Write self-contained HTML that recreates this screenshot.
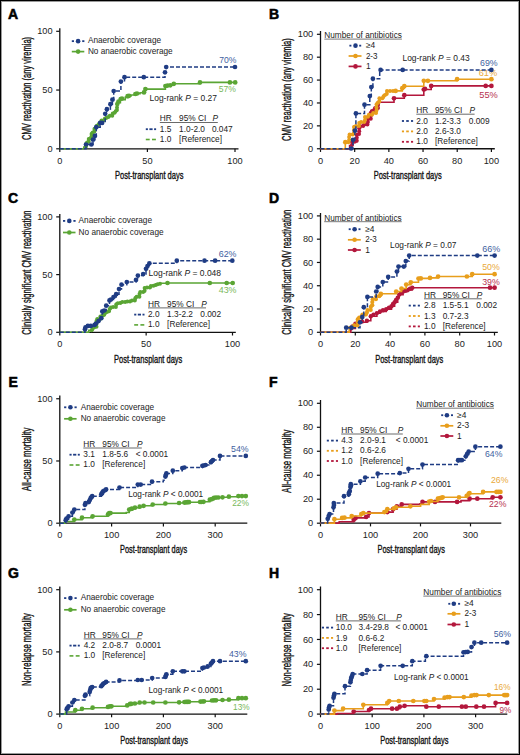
<!DOCTYPE html>
<html><head><meta charset="utf-8"><style>
html,body{margin:0;padding:0;background:#fff;overflow:hidden;width:520px;height:755px;}
svg{display:block;}
text{font-family:"Liberation Sans", sans-serif;}
</style></head><body>
<svg width="520" height="755" viewBox="0 0 520 755">
<rect x="0" y="0" width="520" height="755" fill="#fff"/>
<path d="M59.8 28.2 V148.8 H238.5" fill="none" stroke="#111" stroke-width="1.3"/>
<line x1="56.199999999999996" y1="148.80" x2="59.8" y2="148.80" stroke="#111" stroke-width="1.2"/>
<text x="52.5" y="151.85" font-size="9.2" fill="#222" text-anchor="end" font-weight="normal" >0</text>
<line x1="56.199999999999996" y1="90.05" x2="59.8" y2="90.05" stroke="#111" stroke-width="1.2"/>
<text x="52.5" y="93.1" font-size="9.2" fill="#222" text-anchor="end" font-weight="normal" >50</text>
<line x1="56.199999999999996" y1="31.30" x2="59.8" y2="31.30" stroke="#111" stroke-width="1.2"/>
<text x="52.5" y="34.35" font-size="9.2" fill="#222" text-anchor="end" font-weight="normal" >100</text>
<line x1="59.80" y1="148.8" x2="59.80" y2="152.0" stroke="#111" stroke-width="1.2"/>
<text x="59.8" y="163.6" font-size="9.2" fill="#222" text-anchor="middle" font-weight="normal" >0</text>
<line x1="147.40" y1="148.8" x2="147.40" y2="152.0" stroke="#111" stroke-width="1.2"/>
<text x="147.4" y="163.6" font-size="9.2" fill="#222" text-anchor="middle" font-weight="normal" >50</text>
<line x1="235.00" y1="148.8" x2="235.00" y2="152.0" stroke="#111" stroke-width="1.2"/>
<text x="235.0" y="163.6" font-size="9.2" fill="#222" text-anchor="middle" font-weight="normal" >100</text>
<path d="M320.5 30.9 V148.75 H494.8" fill="none" stroke="#111" stroke-width="1.3"/>
<line x1="316.9" y1="148.75" x2="320.5" y2="148.75" stroke="#111" stroke-width="1.2"/>
<text x="313.2" y="151.8" font-size="9.2" fill="#222" text-anchor="end" font-weight="normal" >0</text>
<line x1="316.9" y1="125.86" x2="320.5" y2="125.86" stroke="#111" stroke-width="1.2"/>
<text x="313.2" y="128.91" font-size="9.2" fill="#222" text-anchor="end" font-weight="normal" >20</text>
<line x1="316.9" y1="102.97" x2="320.5" y2="102.97" stroke="#111" stroke-width="1.2"/>
<text x="313.2" y="106.02" font-size="9.2" fill="#222" text-anchor="end" font-weight="normal" >40</text>
<line x1="316.9" y1="80.08" x2="320.5" y2="80.08" stroke="#111" stroke-width="1.2"/>
<text x="313.2" y="83.13" font-size="9.2" fill="#222" text-anchor="end" font-weight="normal" >60</text>
<line x1="316.9" y1="57.19" x2="320.5" y2="57.19" stroke="#111" stroke-width="1.2"/>
<text x="313.2" y="60.24" font-size="9.2" fill="#222" text-anchor="end" font-weight="normal" >80</text>
<line x1="316.9" y1="34.30" x2="320.5" y2="34.30" stroke="#111" stroke-width="1.2"/>
<text x="313.2" y="37.35" font-size="9.2" fill="#222" text-anchor="end" font-weight="normal" >100</text>
<line x1="320.50" y1="148.75" x2="320.50" y2="151.95" stroke="#111" stroke-width="1.2"/>
<text x="320.5" y="163.55" font-size="9.2" fill="#222" text-anchor="middle" font-weight="normal" >0</text>
<line x1="354.68" y1="148.75" x2="354.68" y2="151.95" stroke="#111" stroke-width="1.2"/>
<text x="354.68" y="163.55" font-size="9.2" fill="#222" text-anchor="middle" font-weight="normal" >20</text>
<line x1="388.86" y1="148.75" x2="388.86" y2="151.95" stroke="#111" stroke-width="1.2"/>
<text x="388.86" y="163.55" font-size="9.2" fill="#222" text-anchor="middle" font-weight="normal" >40</text>
<line x1="423.04" y1="148.75" x2="423.04" y2="151.95" stroke="#111" stroke-width="1.2"/>
<text x="423.04" y="163.55" font-size="9.2" fill="#222" text-anchor="middle" font-weight="normal" >60</text>
<line x1="457.22" y1="148.75" x2="457.22" y2="151.95" stroke="#111" stroke-width="1.2"/>
<text x="457.22" y="163.55" font-size="9.2" fill="#222" text-anchor="middle" font-weight="normal" >80</text>
<line x1="491.40" y1="148.75" x2="491.40" y2="151.95" stroke="#111" stroke-width="1.2"/>
<text x="491.4" y="163.55" font-size="9.2" fill="#222" text-anchor="middle" font-weight="normal" >100</text>
<path d="M59.8 214.0 V332.3 H235.8" fill="none" stroke="#111" stroke-width="1.3"/>
<line x1="56.199999999999996" y1="332.30" x2="59.8" y2="332.30" stroke="#111" stroke-width="1.2"/>
<text x="52.5" y="335.35" font-size="9.2" fill="#222" text-anchor="end" font-weight="normal" >0</text>
<line x1="56.199999999999996" y1="274.60" x2="59.8" y2="274.60" stroke="#111" stroke-width="1.2"/>
<text x="52.5" y="277.65" font-size="9.2" fill="#222" text-anchor="end" font-weight="normal" >50</text>
<line x1="56.199999999999996" y1="216.90" x2="59.8" y2="216.90" stroke="#111" stroke-width="1.2"/>
<text x="52.5" y="219.95" font-size="9.2" fill="#222" text-anchor="end" font-weight="normal" >100</text>
<line x1="59.80" y1="332.3" x2="59.80" y2="335.5" stroke="#111" stroke-width="1.2"/>
<text x="59.8" y="347.1" font-size="9.2" fill="#222" text-anchor="middle" font-weight="normal" >0</text>
<line x1="146.15" y1="332.3" x2="146.15" y2="335.5" stroke="#111" stroke-width="1.2"/>
<text x="146.15" y="347.1" font-size="9.2" fill="#222" text-anchor="middle" font-weight="normal" >50</text>
<line x1="232.50" y1="332.3" x2="232.50" y2="335.5" stroke="#111" stroke-width="1.2"/>
<text x="232.5" y="347.1" font-size="9.2" fill="#222" text-anchor="middle" font-weight="normal" >100</text>
<path d="M320.5 213.0 V332.3 H497.8" fill="none" stroke="#111" stroke-width="1.3"/>
<line x1="316.9" y1="332.30" x2="320.5" y2="332.30" stroke="#111" stroke-width="1.2"/>
<text x="313.2" y="335.35" font-size="9.2" fill="#222" text-anchor="end" font-weight="normal" >0</text>
<line x1="316.9" y1="309.02" x2="320.5" y2="309.02" stroke="#111" stroke-width="1.2"/>
<text x="313.2" y="312.07" font-size="9.2" fill="#222" text-anchor="end" font-weight="normal" >20</text>
<line x1="316.9" y1="285.74" x2="320.5" y2="285.74" stroke="#111" stroke-width="1.2"/>
<text x="313.2" y="288.79" font-size="9.2" fill="#222" text-anchor="end" font-weight="normal" >40</text>
<line x1="316.9" y1="262.46" x2="320.5" y2="262.46" stroke="#111" stroke-width="1.2"/>
<text x="313.2" y="265.51" font-size="9.2" fill="#222" text-anchor="end" font-weight="normal" >60</text>
<line x1="316.9" y1="239.18" x2="320.5" y2="239.18" stroke="#111" stroke-width="1.2"/>
<text x="313.2" y="242.23" font-size="9.2" fill="#222" text-anchor="end" font-weight="normal" >80</text>
<line x1="316.9" y1="215.90" x2="320.5" y2="215.90" stroke="#111" stroke-width="1.2"/>
<text x="313.2" y="218.95" font-size="9.2" fill="#222" text-anchor="end" font-weight="normal" >100</text>
<line x1="320.50" y1="332.3" x2="320.50" y2="335.5" stroke="#111" stroke-width="1.2"/>
<text x="320.5" y="347.1" font-size="9.2" fill="#222" text-anchor="middle" font-weight="normal" >0</text>
<line x1="355.30" y1="332.3" x2="355.30" y2="335.5" stroke="#111" stroke-width="1.2"/>
<text x="355.3" y="347.1" font-size="9.2" fill="#222" text-anchor="middle" font-weight="normal" >20</text>
<line x1="390.10" y1="332.3" x2="390.10" y2="335.5" stroke="#111" stroke-width="1.2"/>
<text x="390.1" y="347.1" font-size="9.2" fill="#222" text-anchor="middle" font-weight="normal" >40</text>
<line x1="424.90" y1="332.3" x2="424.90" y2="335.5" stroke="#111" stroke-width="1.2"/>
<text x="424.9" y="347.1" font-size="9.2" fill="#222" text-anchor="middle" font-weight="normal" >60</text>
<line x1="459.70" y1="332.3" x2="459.70" y2="335.5" stroke="#111" stroke-width="1.2"/>
<text x="459.7" y="347.1" font-size="9.2" fill="#222" text-anchor="middle" font-weight="normal" >80</text>
<line x1="494.50" y1="332.3" x2="494.50" y2="335.5" stroke="#111" stroke-width="1.2"/>
<text x="494.5" y="347.1" font-size="9.2" fill="#222" text-anchor="middle" font-weight="normal" >100</text>
<path d="M59.8 395.6 V523.2 H247.3" fill="none" stroke="#111" stroke-width="1.3"/>
<line x1="56.199999999999996" y1="523.20" x2="59.8" y2="523.20" stroke="#111" stroke-width="1.2"/>
<text x="52.5" y="526.25" font-size="9.2" fill="#222" text-anchor="end" font-weight="normal" >0</text>
<line x1="56.199999999999996" y1="460.98" x2="59.8" y2="460.98" stroke="#111" stroke-width="1.2"/>
<text x="52.5" y="464.03" font-size="9.2" fill="#222" text-anchor="end" font-weight="normal" >50</text>
<line x1="56.199999999999996" y1="398.75" x2="59.8" y2="398.75" stroke="#111" stroke-width="1.2"/>
<text x="52.5" y="401.8" font-size="9.2" fill="#222" text-anchor="end" font-weight="normal" >100</text>
<line x1="59.80" y1="523.2" x2="59.80" y2="526.4000000000001" stroke="#111" stroke-width="1.2"/>
<text x="59.8" y="538.0" font-size="9.2" fill="#222" text-anchor="middle" font-weight="normal" >0</text>
<line x1="111.60" y1="523.2" x2="111.60" y2="526.4000000000001" stroke="#111" stroke-width="1.2"/>
<text x="111.6" y="538.0" font-size="9.2" fill="#222" text-anchor="middle" font-weight="normal" >100</text>
<line x1="163.40" y1="523.2" x2="163.40" y2="526.4000000000001" stroke="#111" stroke-width="1.2"/>
<text x="163.4" y="538.0" font-size="9.2" fill="#222" text-anchor="middle" font-weight="normal" >200</text>
<line x1="215.20" y1="523.2" x2="215.20" y2="526.4000000000001" stroke="#111" stroke-width="1.2"/>
<text x="215.2" y="538.0" font-size="9.2" fill="#222" text-anchor="middle" font-weight="normal" >300</text>
<path d="M320.5 400.1 V523.2 H501.3" fill="none" stroke="#111" stroke-width="1.3"/>
<line x1="316.9" y1="523.20" x2="320.5" y2="523.20" stroke="#111" stroke-width="1.2"/>
<text x="313.2" y="526.25" font-size="9.2" fill="#222" text-anchor="end" font-weight="normal" >0</text>
<line x1="316.9" y1="499.22" x2="320.5" y2="499.22" stroke="#111" stroke-width="1.2"/>
<text x="313.2" y="502.27" font-size="9.2" fill="#222" text-anchor="end" font-weight="normal" >20</text>
<line x1="316.9" y1="475.24" x2="320.5" y2="475.24" stroke="#111" stroke-width="1.2"/>
<text x="313.2" y="478.29" font-size="9.2" fill="#222" text-anchor="end" font-weight="normal" >40</text>
<line x1="316.9" y1="451.26" x2="320.5" y2="451.26" stroke="#111" stroke-width="1.2"/>
<text x="313.2" y="454.31" font-size="9.2" fill="#222" text-anchor="end" font-weight="normal" >60</text>
<line x1="316.9" y1="427.28" x2="320.5" y2="427.28" stroke="#111" stroke-width="1.2"/>
<text x="313.2" y="430.33" font-size="9.2" fill="#222" text-anchor="end" font-weight="normal" >80</text>
<line x1="316.9" y1="403.30" x2="320.5" y2="403.30" stroke="#111" stroke-width="1.2"/>
<text x="313.2" y="406.35" font-size="9.2" fill="#222" text-anchor="end" font-weight="normal" >100</text>
<line x1="320.50" y1="523.2" x2="320.50" y2="526.4000000000001" stroke="#111" stroke-width="1.2"/>
<text x="320.5" y="538.0" font-size="9.2" fill="#222" text-anchor="middle" font-weight="normal" >0</text>
<line x1="370.50" y1="523.2" x2="370.50" y2="526.4000000000001" stroke="#111" stroke-width="1.2"/>
<text x="370.5" y="538.0" font-size="9.2" fill="#222" text-anchor="middle" font-weight="normal" >100</text>
<line x1="420.50" y1="523.2" x2="420.50" y2="526.4000000000001" stroke="#111" stroke-width="1.2"/>
<text x="420.5" y="538.0" font-size="9.2" fill="#222" text-anchor="middle" font-weight="normal" >200</text>
<line x1="470.50" y1="523.2" x2="470.50" y2="526.4000000000001" stroke="#111" stroke-width="1.2"/>
<text x="470.5" y="538.0" font-size="9.2" fill="#222" text-anchor="middle" font-weight="normal" >300</text>
<path d="M59.8 586.5 V714.1 H247.3" fill="none" stroke="#111" stroke-width="1.3"/>
<line x1="56.199999999999996" y1="714.10" x2="59.8" y2="714.10" stroke="#111" stroke-width="1.2"/>
<text x="52.5" y="717.15" font-size="9.2" fill="#222" text-anchor="end" font-weight="normal" >0</text>
<line x1="56.199999999999996" y1="651.90" x2="59.8" y2="651.90" stroke="#111" stroke-width="1.2"/>
<text x="52.5" y="654.95" font-size="9.2" fill="#222" text-anchor="end" font-weight="normal" >50</text>
<line x1="56.199999999999996" y1="589.70" x2="59.8" y2="589.70" stroke="#111" stroke-width="1.2"/>
<text x="52.5" y="592.75" font-size="9.2" fill="#222" text-anchor="end" font-weight="normal" >100</text>
<line x1="59.80" y1="714.1" x2="59.80" y2="717.3000000000001" stroke="#111" stroke-width="1.2"/>
<text x="59.8" y="728.9" font-size="9.2" fill="#222" text-anchor="middle" font-weight="normal" >0</text>
<line x1="111.60" y1="714.1" x2="111.60" y2="717.3000000000001" stroke="#111" stroke-width="1.2"/>
<text x="111.6" y="728.9" font-size="9.2" fill="#222" text-anchor="middle" font-weight="normal" >100</text>
<line x1="163.40" y1="714.1" x2="163.40" y2="717.3000000000001" stroke="#111" stroke-width="1.2"/>
<text x="163.4" y="728.9" font-size="9.2" fill="#222" text-anchor="middle" font-weight="normal" >200</text>
<line x1="215.20" y1="714.1" x2="215.20" y2="717.3000000000001" stroke="#111" stroke-width="1.2"/>
<text x="215.2" y="728.9" font-size="9.2" fill="#222" text-anchor="middle" font-weight="normal" >300</text>
<path d="M320.5 586.5 V714.1 H507.3" fill="none" stroke="#111" stroke-width="1.3"/>
<line x1="316.9" y1="714.10" x2="320.5" y2="714.10" stroke="#111" stroke-width="1.2"/>
<text x="313.2" y="717.15" font-size="9.2" fill="#222" text-anchor="end" font-weight="normal" >0</text>
<line x1="316.9" y1="689.22" x2="320.5" y2="689.22" stroke="#111" stroke-width="1.2"/>
<text x="313.2" y="692.27" font-size="9.2" fill="#222" text-anchor="end" font-weight="normal" >20</text>
<line x1="316.9" y1="664.34" x2="320.5" y2="664.34" stroke="#111" stroke-width="1.2"/>
<text x="313.2" y="667.39" font-size="9.2" fill="#222" text-anchor="end" font-weight="normal" >40</text>
<line x1="316.9" y1="639.46" x2="320.5" y2="639.46" stroke="#111" stroke-width="1.2"/>
<text x="313.2" y="642.51" font-size="9.2" fill="#222" text-anchor="end" font-weight="normal" >60</text>
<line x1="316.9" y1="614.58" x2="320.5" y2="614.58" stroke="#111" stroke-width="1.2"/>
<text x="313.2" y="617.63" font-size="9.2" fill="#222" text-anchor="end" font-weight="normal" >80</text>
<line x1="316.9" y1="589.70" x2="320.5" y2="589.70" stroke="#111" stroke-width="1.2"/>
<text x="313.2" y="592.75" font-size="9.2" fill="#222" text-anchor="end" font-weight="normal" >100</text>
<line x1="320.50" y1="714.1" x2="320.50" y2="717.3000000000001" stroke="#111" stroke-width="1.2"/>
<text x="320.5" y="728.9" font-size="9.2" fill="#222" text-anchor="middle" font-weight="normal" >0</text>
<line x1="372.20" y1="714.1" x2="372.20" y2="717.3000000000001" stroke="#111" stroke-width="1.2"/>
<text x="372.2" y="728.9" font-size="9.2" fill="#222" text-anchor="middle" font-weight="normal" >100</text>
<line x1="423.90" y1="714.1" x2="423.90" y2="717.3000000000001" stroke="#111" stroke-width="1.2"/>
<text x="423.9" y="728.9" font-size="9.2" fill="#222" text-anchor="middle" font-weight="normal" >200</text>
<line x1="475.60" y1="714.1" x2="475.60" y2="717.3000000000001" stroke="#111" stroke-width="1.2"/>
<text x="475.6" y="728.9" font-size="9.2" fill="#222" text-anchor="middle" font-weight="normal" >300</text>
<text x="8.1" y="19.2" font-size="14" font-weight="bold" fill="#000" stroke="#000" stroke-width="0.55">A</text>
<text x="269.1" y="19.3" font-size="14" font-weight="bold" fill="#000" stroke="#000" stroke-width="0.55">B</text>
<text x="8.1" y="203.4" font-size="14" font-weight="bold" fill="#000" stroke="#000" stroke-width="0.55">C</text>
<text x="269.1" y="203.4" font-size="14" font-weight="bold" fill="#000" stroke="#000" stroke-width="0.55">D</text>
<text x="8.4" y="386.9" font-size="14" font-weight="bold" fill="#000" stroke="#000" stroke-width="0.55">E</text>
<text x="269.1" y="386.9" font-size="14" font-weight="bold" fill="#000" stroke="#000" stroke-width="0.55">F</text>
<text x="8.1" y="577.6" font-size="14" font-weight="bold" fill="#000" stroke="#000" stroke-width="0.55">G</text>
<text x="269.1" y="577.6" font-size="14" font-weight="bold" fill="#000" stroke="#000" stroke-width="0.55">H</text>
<text x="115.0" y="178.7" font-size="11" fill="#111" text-anchor="start" font-weight="normal" textLength="68.5" lengthAdjust="spacingAndGlyphs" stroke="#111" stroke-width="0.35">Post-transplant days</text>
<text x="373.7" y="178.7" font-size="11" fill="#111" text-anchor="start" font-weight="normal" textLength="68.0" lengthAdjust="spacingAndGlyphs" stroke="#111" stroke-width="0.35">Post-transplant days</text>
<text x="114.0" y="362.7" font-size="11" fill="#111" text-anchor="start" font-weight="normal" textLength="68.3" lengthAdjust="spacingAndGlyphs" stroke="#111" stroke-width="0.35">Post-transplant days</text>
<text x="375.2" y="362.7" font-size="11" fill="#111" text-anchor="start" font-weight="normal" textLength="68.1" lengthAdjust="spacingAndGlyphs" stroke="#111" stroke-width="0.35">Post-transplant days</text>
<text x="120.0" y="553.1" font-size="11" fill="#111" text-anchor="start" font-weight="normal" textLength="67.1" lengthAdjust="spacingAndGlyphs" stroke="#111" stroke-width="0.35">Post-transplant days</text>
<text x="377.5" y="552.9" font-size="11" fill="#111" text-anchor="start" font-weight="normal" textLength="67.5" lengthAdjust="spacingAndGlyphs" stroke="#111" stroke-width="0.35">Post-transplant days</text>
<text x="120.2" y="744.2" font-size="11" fill="#111" text-anchor="start" font-weight="normal" textLength="67.7" lengthAdjust="spacingAndGlyphs" stroke="#111" stroke-width="0.35">Post-transplant days</text>
<text x="380.2" y="744.2" font-size="11" fill="#111" text-anchor="start" font-weight="normal" textLength="68.3" lengthAdjust="spacingAndGlyphs" stroke="#111" stroke-width="0.35">Post-transplant days</text>
<text transform="translate(30.6,88.4) rotate(-90)" x="0" y="0" font-size="12" fill="#111" text-anchor="middle" textLength="103.0" lengthAdjust="spacingAndGlyphs" stroke="#111" stroke-width="0.35">CMV reactivation (any viremia)</text>
<text transform="translate(291.0,89.6) rotate(-90)" x="0" y="0" font-size="12" fill="#111" text-anchor="middle" textLength="102.8" lengthAdjust="spacingAndGlyphs" stroke="#111" stroke-width="0.35">CMV reactivation (any viremia)</text>
<text transform="translate(30.6,272.6) rotate(-90)" x="0" y="0" font-size="12" fill="#111" text-anchor="middle" textLength="124.3" lengthAdjust="spacingAndGlyphs" stroke="#111" stroke-width="0.35">Clinically significant CMV reactivation</text>
<text transform="translate(291.0,272.3) rotate(-90)" x="0" y="0" font-size="12" fill="#111" text-anchor="middle" textLength="124.8" lengthAdjust="spacingAndGlyphs" stroke="#111" stroke-width="0.35">Clinically significant CMV reactivation</text>
<text transform="translate(30.5,459.3) rotate(-90)" x="0" y="0" font-size="12" fill="#111" text-anchor="middle" textLength="63.2" lengthAdjust="spacingAndGlyphs" stroke="#111" stroke-width="0.35">All-cause mortality</text>
<text transform="translate(291.1,461.2) rotate(-90)" x="0" y="0" font-size="12" fill="#111" text-anchor="middle" textLength="62.9" lengthAdjust="spacingAndGlyphs" stroke="#111" stroke-width="0.35">All-cause mortality</text>
<text transform="translate(30.9,649.6) rotate(-90)" x="0" y="0" font-size="12" fill="#111" text-anchor="middle" textLength="72.9" lengthAdjust="spacingAndGlyphs" stroke="#111" stroke-width="0.35">Non-relapse mortality</text>
<text transform="translate(291.3,649.8) rotate(-90)" x="0" y="0" font-size="12" fill="#111" text-anchor="middle" textLength="73.2" lengthAdjust="spacingAndGlyphs" stroke="#111" stroke-width="0.35">Non-relapse mortality</text>
<rect x="71.8" y="40.25" width="2.20" height="1.8" fill="#1f3c84"/>
<rect x="82.2" y="40.25" width="2.20" height="1.8" fill="#1f3c84"/>
<circle cx="78.10" cy="41.15" r="2.3" fill="#1f3c84"/>
<line x1="71.8" y1="51.6" x2="84.3" y2="51.6" stroke="#5aa534" stroke-width="1.7"/>
<circle cx="78.10" cy="51.60" r="2.3" fill="#5aa534"/>
<text x="87.9" y="43.45" font-size="8.4" fill="#222" text-anchor="start" font-weight="normal" textLength="73.2" lengthAdjust="spacingAndGlyphs" >Anaerobic coverage</text>
<text x="87.9" y="53.9" font-size="8.4" fill="#222" text-anchor="start" font-weight="normal" textLength="84.8" lengthAdjust="spacingAndGlyphs" >No anaerobic coverage</text>
<text x="219.3" y="62.8" font-size="8.3" fill="#3f5f9f" text-anchor="start" font-weight="normal" textLength="17.2" lengthAdjust="spacingAndGlyphs" >70%</text>
<text x="218.7" y="92.4" font-size="8.3" fill="#79b85b" text-anchor="start" font-weight="normal" textLength="17.2" lengthAdjust="spacingAndGlyphs" >57%</text>
<text x="149.5" y="101.3" font-size="8.4" fill="#222" textLength="67.4" lengthAdjust="spacingAndGlyphs">Log-rank <tspan font-style="italic">P</tspan> = 0.27</text>
<text x="159.8" y="121.3" font-size="8.3" fill="#222">HR</text>
<text x="179.1" y="121.3" font-size="8.3" fill="#222">95% CI</text>
<text x="212.5" y="121.3" font-size="8.3" fill="#222" font-style="italic">P</text>
<line x1="159.8" y1="122.5" x2="217.8" y2="122.5" stroke="#444" stroke-width="0.8"/>
<rect x="145.8" y="128.30" width="2.10" height="1.8" fill="#1f3c84"/>
<rect x="149.4" y="128.30" width="3.20" height="1.8" fill="#1f3c84"/>
<rect x="154.10000000000002" y="128.30" width="2.00" height="1.8" fill="#1f3c84"/>
<text x="159.8" y="131.60" font-size="8.3" fill="#222">1.5</text>
<text x="179.1" y="131.60" font-size="8.3" fill="#222">1.0-2.0</text>
<text x="211.9" y="131.60" font-size="8.3" fill="#222">0.047</text>
<rect x="145.8" y="138.70" width="3.90" height="1.6" fill="#5aa534"/>
<rect x="152.0" y="138.70" width="3.90" height="1.6" fill="#5aa534"/>
<text x="159.8" y="141.90" font-size="8.3" fill="#222">1.0</text>
<text x="179.1" y="141.90" font-size="8.3" fill="#222">[Reference]</text>
<path d="M59.80 148.80 H83.50 V148.80 H83.80 V147.00 H86.00 V142.50 H88.70 V138.30 H91.50 V132.50 H94.40 V127.70 H96.50 V125.00 H99.20 V122.40 H101.50 V120.50 H104.00 V118.60 H106.50 V117.00 H108.80 V115.70 H112.70 V112.80 H115.60 V110.90 H117.00 V105.60 H117.50 V102.70 H120.40 V99.80 H125.20 V97.40 H128.00 V96.00 H131.00 V95.00 H135.40 V93.80 H140.00 V92.80 H143.10 V92.30 H145.40 V89.10 H163.80 V89.10 H165.40 V86.00 H170.30 V85.30 H173.80 V83.80 H200.00 V82.40 H235.00 V82.40" fill="none" stroke="#5aa534" stroke-width="1.6"/>
<circle cx="86.00" cy="146.60" r="1.95" fill="#5aa534"/>
<circle cx="86.00" cy="144.00" r="1.95" fill="#5aa534"/>
<circle cx="87.10" cy="142.50" r="1.95" fill="#5aa534"/>
<circle cx="88.70" cy="141.50" r="1.95" fill="#5aa534"/>
<circle cx="88.70" cy="138.90" r="1.95" fill="#5aa534"/>
<circle cx="90.70" cy="138.30" r="1.95" fill="#5aa534"/>
<circle cx="91.50" cy="136.50" r="1.95" fill="#5aa534"/>
<circle cx="91.50" cy="133.90" r="1.95" fill="#5aa534"/>
<circle cx="92.70" cy="132.50" r="1.95" fill="#5aa534"/>
<circle cx="94.40" cy="131.60" r="1.95" fill="#5aa534"/>
<circle cx="94.40" cy="129.00" r="1.95" fill="#5aa534"/>
<circle cx="95.70" cy="127.70" r="1.95" fill="#5aa534"/>
<circle cx="96.50" cy="125.90" r="1.95" fill="#5aa534"/>
<circle cx="98.20" cy="125.00" r="1.95" fill="#5aa534"/>
<circle cx="99.20" cy="123.40" r="1.95" fill="#5aa534"/>
<circle cx="100.80" cy="122.40" r="1.95" fill="#5aa534"/>
<circle cx="101.50" cy="120.50" r="1.95" fill="#5aa534"/>
<circle cx="104.00" cy="120.40" r="1.95" fill="#5aa534"/>
<circle cx="104.80" cy="118.60" r="1.95" fill="#5aa534"/>
<circle cx="106.50" cy="117.70" r="1.95" fill="#5aa534"/>
<circle cx="108.40" cy="117.00" r="1.95" fill="#5aa534"/>
<circle cx="109.70" cy="115.70" r="1.95" fill="#5aa534"/>
<circle cx="112.30" cy="115.70" r="1.95" fill="#5aa534"/>
<circle cx="112.70" cy="113.50" r="1.95" fill="#5aa534"/>
<circle cx="114.60" cy="112.80" r="1.95" fill="#5aa534"/>
<circle cx="115.60" cy="111.20" r="1.95" fill="#5aa534"/>
<circle cx="117.00" cy="110.00" r="1.95" fill="#5aa534"/>
<circle cx="117.00" cy="107.40" r="1.95" fill="#5aa534"/>
<circle cx="117.30" cy="104.00" r="2.35" fill="#5aa534"/>
<circle cx="118.50" cy="101.50" r="2.35" fill="#5aa534"/>
<circle cx="120.70" cy="99.00" r="2.35" fill="#5aa534"/>
<circle cx="122.00" cy="98.50" r="2.35" fill="#5aa534"/>
<circle cx="127.60" cy="96.20" r="2.35" fill="#5aa534"/>
<circle cx="129.00" cy="95.80" r="2.35" fill="#5aa534"/>
<circle cx="135.40" cy="94.00" r="2.35" fill="#5aa534"/>
<circle cx="137.00" cy="93.50" r="2.35" fill="#5aa534"/>
<circle cx="144.00" cy="92.40" r="2.35" fill="#5aa534"/>
<circle cx="145.40" cy="89.10" r="2.35" fill="#5aa534"/>
<circle cx="165.40" cy="86.00" r="2.35" fill="#5aa534"/>
<circle cx="167.50" cy="85.60" r="2.35" fill="#5aa534"/>
<circle cx="170.30" cy="85.30" r="2.35" fill="#5aa534"/>
<circle cx="173.80" cy="83.80" r="2.35" fill="#5aa534"/>
<circle cx="200.00" cy="82.40" r="2.35" fill="#5aa534"/>
<circle cx="229.90" cy="82.40" r="2.35" fill="#5aa534"/>
<circle cx="235.20" cy="82.40" r="2.35" fill="#5aa534"/>
<path d="M59.80 148.80 H86.00 V144.50 H91.30 V144.50 H93.00 V139.70 H94.90 V135.90 H96.30 V127.20 H100.20 V122.90 H102.10 V122.90 H105.20 V113.75 H106.90 V109.20 H110.40 V104.20 H112.40 V99.70 H113.70 V91.00 H120.90 V81.50 H124.50 V77.20 H143.80 V77.20 H165.00 V72.30 H166.20 V67.00 H235.00 V67.00" fill="none" stroke="#1f3c84" stroke-width="1.5" stroke-dasharray="4 2"/>
<circle cx="86.00" cy="144.50" r="2.35" fill="#1f3c84"/>
<circle cx="91.30" cy="144.50" r="2.35" fill="#1f3c84"/>
<circle cx="93.00" cy="139.70" r="2.35" fill="#1f3c84"/>
<circle cx="94.90" cy="135.90" r="2.35" fill="#1f3c84"/>
<circle cx="96.30" cy="127.20" r="2.35" fill="#1f3c84"/>
<circle cx="100.20" cy="122.90" r="2.35" fill="#1f3c84"/>
<circle cx="102.10" cy="122.90" r="2.35" fill="#1f3c84"/>
<circle cx="105.20" cy="113.75" r="2.35" fill="#1f3c84"/>
<circle cx="106.90" cy="109.20" r="2.35" fill="#1f3c84"/>
<circle cx="110.40" cy="104.20" r="2.35" fill="#1f3c84"/>
<circle cx="112.40" cy="99.70" r="2.35" fill="#1f3c84"/>
<circle cx="113.70" cy="91.00" r="2.35" fill="#1f3c84"/>
<circle cx="120.90" cy="81.50" r="2.35" fill="#1f3c84"/>
<circle cx="124.50" cy="77.20" r="2.35" fill="#1f3c84"/>
<circle cx="143.80" cy="77.20" r="2.35" fill="#1f3c84"/>
<circle cx="165.00" cy="72.30" r="2.35" fill="#1f3c84"/>
<circle cx="166.20" cy="67.00" r="2.35" fill="#1f3c84"/>
<circle cx="235.00" cy="67.00" r="2.35" fill="#1f3c84"/>
<rect x="349.40000000000003" y="44.75" width="2.00" height="1.8" fill="#1f3c84"/>
<rect x="359.20000000000005" y="44.75" width="2.00" height="1.8" fill="#1f3c84"/>
<circle cx="355.50" cy="45.65" r="2.3" fill="#1f3c84"/>
<line x1="348.6" y1="56.0" x2="361.5" y2="56.0" stroke="#e89e1c" stroke-width="1.7"/>
<circle cx="355.50" cy="56.00" r="2.3" fill="#e89e1c"/>
<line x1="348.6" y1="66.4" x2="361.5" y2="66.4" stroke="#b3173c" stroke-width="1.7"/>
<circle cx="355.50" cy="66.40" r="2.3" fill="#b3173c"/>
<text x="365.9" y="48.15" font-size="8.4" fill="#222">≥4</text>
<text x="365.9" y="58.50" font-size="8.4" fill="#222" textLength="11.6" lengthAdjust="spacingAndGlyphs">2-3</text>
<text x="365.9" y="68.90" font-size="8.4" fill="#222">1</text>
<text x="324.3" y="38.0" font-size="8.3" fill="#222" textLength="77.6" lengthAdjust="spacingAndGlyphs">Number of antibiotics</text>
<line x1="324.3" y1="39.1" x2="401.9" y2="39.1" stroke="#555" stroke-width="0.8"/>
<text x="402.5" y="60.6" font-size="8.4" fill="#222" textLength="67.2" lengthAdjust="spacingAndGlyphs">Log-rank <tspan font-style="italic">P</tspan> = 0.43</text>
<text x="480.0" y="65.9" font-size="8.3" fill="#3f5f9f" text-anchor="start" font-weight="normal" textLength="17.6" lengthAdjust="spacingAndGlyphs" >69%</text>
<text x="478.7" y="75.8" font-size="8.3" fill="#e9a93a" text-anchor="start" font-weight="normal" textLength="18.5" lengthAdjust="spacingAndGlyphs" >61%</text>
<text x="479.3" y="98.2" font-size="8.3" fill="#b7324f" text-anchor="start" font-weight="normal" textLength="18.5" lengthAdjust="spacingAndGlyphs" >55%</text>
<text x="416.3" y="112.9" font-size="8.3" fill="#222">HR</text>
<text x="435.0" y="112.9" font-size="8.3" fill="#222">95% CI</text>
<text x="469.6" y="112.9" font-size="8.3" fill="#222" font-style="italic">P</text>
<line x1="416.3" y1="114.2" x2="474.6" y2="114.2" stroke="#444" stroke-width="0.8"/>
<rect x="401.9" y="120.10" width="2.10" height="1.8" fill="#1f3c84"/>
<rect x="406.2" y="120.10" width="2.60" height="1.8" fill="#1f3c84"/>
<rect x="411.0" y="120.10" width="2.10" height="1.8" fill="#1f3c84"/>
<text x="416.3" y="123.60" font-size="8.3" fill="#222">2.0</text>
<text x="435.0" y="123.60" font-size="8.3" fill="#222">1.2-3.3</text>
<text x="468.8" y="123.60" font-size="8.3" fill="#222">0.009</text>
<rect x="401.9" y="130.50" width="2.10" height="1.8" fill="#e89e1c"/>
<rect x="406.2" y="130.50" width="2.60" height="1.8" fill="#e89e1c"/>
<rect x="411.0" y="130.50" width="2.10" height="1.8" fill="#e89e1c"/>
<text x="416.3" y="134.00" font-size="8.3" fill="#222">2.0</text>
<text x="435.0" y="134.00" font-size="8.3" fill="#222">2.6-3.0</text>
<rect x="401.9" y="140.90" width="2.10" height="1.8" fill="#b3173c"/>
<rect x="406.2" y="140.90" width="2.60" height="1.8" fill="#b3173c"/>
<rect x="411.0" y="140.90" width="2.10" height="1.8" fill="#b3173c"/>
<text x="416.3" y="144.40" font-size="8.3" fill="#222">1.0</text>
<text x="435.0" y="144.40" font-size="8.3" fill="#222">[Reference]</text>
<path d="M320.50 148.75 H348.80 V148.75 H349.60 V145.60 H352.00 V141.70 H356.80 V134.00 H359.20 V126.30 H363.10 V124.40 H367.90 V119.10 H370.80 V111.00 H374.10 V108.10 H378.00 V104.20 H378.50 V102.30 H394.00 V98.30 H404.30 V95.20 H422.80 V95.20 H423.80 V89.50 H431.20 V85.90 H491.40 V85.90" fill="none" stroke="#b3173c" stroke-width="1.6"/>
<circle cx="352.00" cy="145.00" r="2.0" fill="#b3173c"/>
<circle cx="352.00" cy="142.00" r="2.0" fill="#b3173c"/>
<circle cx="354.70" cy="141.70" r="2.0" fill="#b3173c"/>
<circle cx="356.80" cy="140.80" r="2.0" fill="#b3173c"/>
<circle cx="356.80" cy="137.80" r="2.0" fill="#b3173c"/>
<circle cx="356.80" cy="134.80" r="2.0" fill="#b3173c"/>
<circle cx="359.00" cy="134.00" r="2.0" fill="#b3173c"/>
<circle cx="359.20" cy="131.20" r="2.0" fill="#b3173c"/>
<circle cx="359.20" cy="128.20" r="2.0" fill="#b3173c"/>
<circle cx="360.30" cy="126.30" r="2.0" fill="#b3173c"/>
<circle cx="363.10" cy="126.10" r="2.0" fill="#b3173c"/>
<circle cx="364.40" cy="124.40" r="2.0" fill="#b3173c"/>
<circle cx="367.40" cy="124.40" r="2.0" fill="#b3173c"/>
<circle cx="367.90" cy="121.90" r="2.0" fill="#b3173c"/>
<circle cx="368.10" cy="119.10" r="2.0" fill="#b3173c"/>
<circle cx="370.80" cy="118.80" r="2.0" fill="#b3173c"/>
<circle cx="370.80" cy="115.80" r="2.0" fill="#b3173c"/>
<circle cx="370.80" cy="112.80" r="2.0" fill="#b3173c"/>
<circle cx="372.00" cy="111.00" r="2.0" fill="#b3173c"/>
<circle cx="374.10" cy="110.10" r="2.0" fill="#b3173c"/>
<circle cx="375.10" cy="108.10" r="2.0" fill="#b3173c"/>
<circle cx="378.00" cy="108.00" r="2.0" fill="#b3173c"/>
<circle cx="378.00" cy="105.00" r="2.0" fill="#b3173c"/>
<circle cx="378.50" cy="102.50" r="2.0" fill="#b3173c"/>
<circle cx="394.00" cy="98.30" r="2.35" fill="#b3173c"/>
<circle cx="404.30" cy="95.20" r="2.35" fill="#b3173c"/>
<circle cx="423.80" cy="89.50" r="2.35" fill="#b3173c"/>
<circle cx="425.00" cy="88.80" r="2.35" fill="#b3173c"/>
<circle cx="431.20" cy="85.90" r="2.35" fill="#b3173c"/>
<circle cx="485.70" cy="85.90" r="2.35" fill="#b3173c"/>
<circle cx="491.40" cy="85.90" r="2.35" fill="#b3173c"/>
<path d="M320.50 148.75 H344.60 V148.75 H345.30 V142.20 H349.10 V134.50 H354.00 V125.90 H359.20 V122.00 H365.00 V116.70 H368.80 V114.80 H373.20 V112.90 H376.50 V102.80 H379.40 V98.30 H383.50 V94.90 H386.80 V90.90 H395.60 V90.90 H402.30 V88.20 H404.30 V86.20 H422.80 V86.20 H423.80 V80.80 H457.10 V80.80 H457.10 V79.20 H491.40 V79.20" fill="none" stroke="#e89e1c" stroke-width="1.6"/>
<circle cx="348.30" cy="142.20" r="2.0" fill="#e89e1c"/>
<circle cx="349.10" cy="140.00" r="2.0" fill="#e89e1c"/>
<circle cx="349.10" cy="137.00" r="2.0" fill="#e89e1c"/>
<circle cx="349.60" cy="134.50" r="2.0" fill="#e89e1c"/>
<circle cx="352.60" cy="134.50" r="2.0" fill="#e89e1c"/>
<circle cx="354.00" cy="132.90" r="2.0" fill="#e89e1c"/>
<circle cx="354.00" cy="129.90" r="2.0" fill="#e89e1c"/>
<circle cx="354.00" cy="126.90" r="2.0" fill="#e89e1c"/>
<circle cx="356.00" cy="125.90" r="2.0" fill="#e89e1c"/>
<circle cx="359.00" cy="125.90" r="2.0" fill="#e89e1c"/>
<circle cx="359.20" cy="123.10" r="2.0" fill="#e89e1c"/>
<circle cx="361.10" cy="122.00" r="2.0" fill="#e89e1c"/>
<circle cx="364.10" cy="122.00" r="2.0" fill="#e89e1c"/>
<circle cx="365.00" cy="119.90" r="2.0" fill="#e89e1c"/>
<circle cx="365.00" cy="116.90" r="2.0" fill="#e89e1c"/>
<circle cx="367.80" cy="116.70" r="2.0" fill="#e89e1c"/>
<circle cx="368.90" cy="114.80" r="2.0" fill="#e89e1c"/>
<circle cx="371.90" cy="114.80" r="2.0" fill="#e89e1c"/>
<circle cx="373.20" cy="113.10" r="2.0" fill="#e89e1c"/>
<circle cx="376.00" cy="112.90" r="2.0" fill="#e89e1c"/>
<circle cx="376.50" cy="110.40" r="2.0" fill="#e89e1c"/>
<circle cx="376.50" cy="107.40" r="2.0" fill="#e89e1c"/>
<circle cx="376.50" cy="104.40" r="2.0" fill="#e89e1c"/>
<circle cx="377.90" cy="102.80" r="2.0" fill="#e89e1c"/>
<circle cx="379.40" cy="101.30" r="2.0" fill="#e89e1c"/>
<circle cx="379.40" cy="98.30" r="2.0" fill="#e89e1c"/>
<circle cx="382.40" cy="98.30" r="2.0" fill="#e89e1c"/>
<circle cx="383.50" cy="96.40" r="2.0" fill="#e89e1c"/>
<circle cx="385.00" cy="94.90" r="2.0" fill="#e89e1c"/>
<circle cx="386.80" cy="93.70" r="2.0" fill="#e89e1c"/>
<circle cx="387.00" cy="90.90" r="2.0" fill="#e89e1c"/>
<circle cx="390.00" cy="90.90" r="2.0" fill="#e89e1c"/>
<circle cx="393.00" cy="90.90" r="2.0" fill="#e89e1c"/>
<circle cx="345.30" cy="142.20" r="2.35" fill="#e89e1c"/>
<circle cx="395.60" cy="90.90" r="2.35" fill="#e89e1c"/>
<circle cx="402.30" cy="88.20" r="2.35" fill="#e89e1c"/>
<circle cx="404.30" cy="86.20" r="2.35" fill="#e89e1c"/>
<circle cx="423.80" cy="80.80" r="2.35" fill="#e89e1c"/>
<circle cx="427.90" cy="80.80" r="2.35" fill="#e89e1c"/>
<circle cx="457.10" cy="79.20" r="2.35" fill="#e89e1c"/>
<circle cx="491.40" cy="79.20" r="2.35" fill="#e89e1c"/>
<path d="M320.50 148.75 H351.10 V148.50 H353.00 V139.80 H354.90 V130.70 H355.90 V113.40 H364.50 V104.70 H369.80 V96.10 H371.30 V87.10 H372.90 V78.70 H379.70 V69.90 H380.60 V69.90 H402.70 V69.90 H491.40 V69.90" fill="none" stroke="#1f3c84" stroke-width="1.5" stroke-dasharray="4 2"/>
<circle cx="351.10" cy="148.50" r="2.35" fill="#1f3c84"/>
<circle cx="353.00" cy="139.80" r="2.35" fill="#1f3c84"/>
<circle cx="354.90" cy="130.70" r="2.35" fill="#1f3c84"/>
<circle cx="355.90" cy="113.40" r="2.35" fill="#1f3c84"/>
<circle cx="364.50" cy="104.70" r="2.35" fill="#1f3c84"/>
<circle cx="369.80" cy="96.10" r="2.35" fill="#1f3c84"/>
<circle cx="371.30" cy="87.10" r="2.35" fill="#1f3c84"/>
<circle cx="372.90" cy="78.70" r="2.35" fill="#1f3c84"/>
<circle cx="380.60" cy="69.90" r="2.35" fill="#1f3c84"/>
<circle cx="402.70" cy="69.90" r="2.35" fill="#1f3c84"/>
<circle cx="491.40" cy="69.90" r="2.35" fill="#1f3c84"/>
<rect x="63.0" y="220.00" width="2.20" height="1.8" fill="#1f3c84"/>
<rect x="73.4" y="220.00" width="2.20" height="1.8" fill="#1f3c84"/>
<circle cx="69.30" cy="220.90" r="2.3" fill="#1f3c84"/>
<line x1="63.0" y1="232.5" x2="75.5" y2="232.5" stroke="#5aa534" stroke-width="1.7"/>
<circle cx="69.30" cy="232.50" r="2.3" fill="#5aa534"/>
<text x="78.6" y="223.2" font-size="8.4" fill="#222" text-anchor="start" font-weight="normal" textLength="73.4" lengthAdjust="spacingAndGlyphs" >Anaerobic coverage</text>
<text x="78.6" y="234.8" font-size="8.4" fill="#222" text-anchor="start" font-weight="normal" textLength="85.0" lengthAdjust="spacingAndGlyphs" >No anaerobic coverage</text>
<text x="218.7" y="256.9" font-size="8.3" fill="#3f5f9f" text-anchor="start" font-weight="normal" textLength="17.8" lengthAdjust="spacingAndGlyphs" >62%</text>
<text x="218.7" y="293.4" font-size="8.3" fill="#79b85b" text-anchor="start" font-weight="normal" textLength="17.8" lengthAdjust="spacingAndGlyphs" >43%</text>
<text x="148.5" y="275.8" font-size="8.4" fill="#222" textLength="72.6" lengthAdjust="spacingAndGlyphs">Log-rank <tspan font-style="italic">P</tspan> = 0.048</text>
<text x="148.0" y="306.7" font-size="8.3" fill="#222">HR</text>
<text x="167.1" y="306.7" font-size="8.3" fill="#222">95% CI</text>
<text x="201.3" y="306.7" font-size="8.3" fill="#222" font-style="italic">P</text>
<line x1="148.0" y1="307.9" x2="206.0" y2="307.9" stroke="#444" stroke-width="0.8"/>
<rect x="134.2" y="313.70" width="2.10" height="1.8" fill="#1f3c84"/>
<rect x="137.79999999999998" y="313.70" width="3.20" height="1.8" fill="#1f3c84"/>
<rect x="142.5" y="313.70" width="2.00" height="1.8" fill="#1f3c84"/>
<text x="148.0" y="317.00" font-size="8.3" fill="#222">2.0</text>
<text x="167.1" y="317.00" font-size="8.3" fill="#222">1.3-2.2</text>
<text x="200.3" y="317.00" font-size="8.3" fill="#222">0.002</text>
<rect x="134.2" y="324.10" width="3.90" height="1.6" fill="#5aa534"/>
<rect x="140.39999999999998" y="324.10" width="3.90" height="1.6" fill="#5aa534"/>
<text x="148.0" y="327.30" font-size="8.3" fill="#222">1.0</text>
<text x="167.1" y="327.30" font-size="8.3" fill="#222">[Reference]</text>
<path d="M59.80 332.30 H85.50 V332.30 H88.80 V330.20 H92.70 V327.30 H96.50 V319.10 H100.40 V315.80 H104.20 V313.00 H106.00 V312.00 H109.00 V309.00 H110.90 V306.90 H116.20 V303.20 H120.40 V302.10 H125.20 V301.60 H130.00 V300.60 H135.30 V296.80 H139.50 V292.10 H144.60 V287.60 H150.90 V285.70 H155.70 V284.20 H160.00 V283.30 H168.20 V283.00 H232.70 V283.00" fill="none" stroke="#5aa534" stroke-width="1.6"/>
<circle cx="91.60" cy="330.20" r="2.0" fill="#5aa534"/>
<circle cx="92.70" cy="328.50" r="2.0" fill="#5aa534"/>
<circle cx="94.30" cy="327.30" r="2.0" fill="#5aa534"/>
<circle cx="96.50" cy="326.70" r="2.0" fill="#5aa534"/>
<circle cx="96.50" cy="323.90" r="2.0" fill="#5aa534"/>
<circle cx="96.50" cy="321.10" r="2.0" fill="#5aa534"/>
<circle cx="97.30" cy="319.10" r="2.0" fill="#5aa534"/>
<circle cx="100.10" cy="319.10" r="2.0" fill="#5aa534"/>
<circle cx="100.40" cy="316.60" r="2.0" fill="#5aa534"/>
<circle cx="102.40" cy="315.80" r="2.0" fill="#5aa534"/>
<circle cx="104.20" cy="314.80" r="2.0" fill="#5aa534"/>
<circle cx="105.20" cy="313.00" r="2.0" fill="#5aa534"/>
<circle cx="107.00" cy="312.00" r="2.0" fill="#5aa534"/>
<circle cx="109.00" cy="311.20" r="2.0" fill="#5aa534"/>
<circle cx="109.60" cy="309.00" r="2.0" fill="#5aa534"/>
<circle cx="110.90" cy="307.50" r="2.0" fill="#5aa534"/>
<circle cx="113.10" cy="306.90" r="2.0" fill="#5aa534"/>
<circle cx="115.90" cy="306.90" r="2.0" fill="#5aa534"/>
<circle cx="116.20" cy="304.40" r="2.0" fill="#5aa534"/>
<circle cx="117.80" cy="303.20" r="2.0" fill="#5aa534"/>
<circle cx="120.40" cy="303.00" r="2.0" fill="#5aa534"/>
<circle cx="122.30" cy="302.10" r="2.0" fill="#5aa534"/>
<circle cx="125.10" cy="302.10" r="2.0" fill="#5aa534"/>
<circle cx="127.40" cy="301.60" r="2.0" fill="#5aa534"/>
<circle cx="130.00" cy="301.40" r="2.0" fill="#5aa534"/>
<circle cx="132.00" cy="300.60" r="2.0" fill="#5aa534"/>
<circle cx="134.80" cy="300.60" r="2.0" fill="#5aa534"/>
<circle cx="135.30" cy="298.30" r="2.0" fill="#5aa534"/>
<circle cx="136.60" cy="296.80" r="2.0" fill="#5aa534"/>
<circle cx="139.40" cy="296.80" r="2.0" fill="#5aa534"/>
<circle cx="139.50" cy="294.10" r="2.0" fill="#5aa534"/>
<circle cx="140.30" cy="292.10" r="2.0" fill="#5aa534"/>
<circle cx="143.10" cy="292.10" r="2.0" fill="#5aa534"/>
<circle cx="144.60" cy="290.80" r="2.0" fill="#5aa534"/>
<circle cx="144.60" cy="288.00" r="2.0" fill="#5aa534"/>
<circle cx="147.00" cy="287.60" r="2.0" fill="#5aa534"/>
<circle cx="149.80" cy="287.60" r="2.0" fill="#5aa534"/>
<circle cx="150.90" cy="285.90" r="2.0" fill="#5aa534"/>
<circle cx="153.50" cy="285.70" r="2.0" fill="#5aa534"/>
<circle cx="155.70" cy="285.10" r="2.0" fill="#5aa534"/>
<circle cx="157.60" cy="284.20" r="2.0" fill="#5aa534"/>
<circle cx="160.00" cy="283.80" r="2.0" fill="#5aa534"/>
<circle cx="167.50" cy="283.00" r="2.35" fill="#5aa534"/>
<circle cx="209.80" cy="283.00" r="2.35" fill="#5aa534"/>
<circle cx="226.70" cy="283.00" r="2.35" fill="#5aa534"/>
<circle cx="232.70" cy="283.00" r="2.35" fill="#5aa534"/>
<path d="M59.80 332.30 H85.00 V329.20 H85.50 V327.30 H87.90 V325.90 H90.80 V325.90 H94.60 V324.90 H96.00 V323.50 H98.50 V321.10 H101.30 V318.20 H102.30 V311.40 H104.20 V310.50 H106.20 V305.70 H109.50 V300.40 H110.90 V299.50 H113.50 V297.00 H116.20 V294.20 H119.00 V289.00 H121.50 V284.70 H126.80 V282.00 H131.50 V282.00 H136.00 V279.90 H137.90 V275.50 H143.20 V274.10 H146.00 V268.80 H147.50 V266.00 H149.40 V263.30 H176.80 V260.70 H204.50 V260.70 H215.10 V260.70 H232.30 V260.70" fill="none" stroke="#1f3c84" stroke-width="1.5" stroke-dasharray="4 2"/>
<circle cx="85.00" cy="329.20" r="2.35" fill="#1f3c84"/>
<circle cx="85.50" cy="327.30" r="2.35" fill="#1f3c84"/>
<circle cx="87.90" cy="325.90" r="2.35" fill="#1f3c84"/>
<circle cx="90.80" cy="325.90" r="2.35" fill="#1f3c84"/>
<circle cx="94.60" cy="324.90" r="2.35" fill="#1f3c84"/>
<circle cx="96.00" cy="323.50" r="2.35" fill="#1f3c84"/>
<circle cx="98.50" cy="321.10" r="2.35" fill="#1f3c84"/>
<circle cx="101.30" cy="318.20" r="2.35" fill="#1f3c84"/>
<circle cx="102.30" cy="311.40" r="2.35" fill="#1f3c84"/>
<circle cx="104.20" cy="310.50" r="2.35" fill="#1f3c84"/>
<circle cx="106.20" cy="305.70" r="2.35" fill="#1f3c84"/>
<circle cx="109.50" cy="300.40" r="2.35" fill="#1f3c84"/>
<circle cx="110.90" cy="299.50" r="2.35" fill="#1f3c84"/>
<circle cx="113.50" cy="297.00" r="2.35" fill="#1f3c84"/>
<circle cx="116.20" cy="294.20" r="2.35" fill="#1f3c84"/>
<circle cx="119.00" cy="289.00" r="2.35" fill="#1f3c84"/>
<circle cx="121.50" cy="284.70" r="2.35" fill="#1f3c84"/>
<circle cx="126.80" cy="282.00" r="2.35" fill="#1f3c84"/>
<circle cx="136.00" cy="279.90" r="2.35" fill="#1f3c84"/>
<circle cx="137.90" cy="275.50" r="2.35" fill="#1f3c84"/>
<circle cx="143.20" cy="274.10" r="2.35" fill="#1f3c84"/>
<circle cx="146.00" cy="268.80" r="2.35" fill="#1f3c84"/>
<circle cx="147.50" cy="266.00" r="2.35" fill="#1f3c84"/>
<circle cx="149.40" cy="263.30" r="2.35" fill="#1f3c84"/>
<circle cx="176.80" cy="260.70" r="2.35" fill="#1f3c84"/>
<circle cx="204.50" cy="260.70" r="2.35" fill="#1f3c84"/>
<circle cx="215.10" cy="260.70" r="2.35" fill="#1f3c84"/>
<circle cx="232.30" cy="260.70" r="2.35" fill="#1f3c84"/>
<rect x="348.7" y="228.30" width="2.00" height="1.8" fill="#1f3c84"/>
<rect x="358.5" y="228.30" width="2.00" height="1.8" fill="#1f3c84"/>
<circle cx="354.60" cy="229.20" r="2.3" fill="#1f3c84"/>
<line x1="347.9" y1="239.8" x2="360.79999999999995" y2="239.8" stroke="#e89e1c" stroke-width="1.7"/>
<circle cx="354.60" cy="239.80" r="2.3" fill="#e89e1c"/>
<line x1="347.9" y1="250.0" x2="360.79999999999995" y2="250.0" stroke="#b3173c" stroke-width="1.7"/>
<circle cx="354.60" cy="250.00" r="2.3" fill="#b3173c"/>
<text x="365.2" y="231.70" font-size="8.4" fill="#222">≥4</text>
<text x="365.2" y="242.30" font-size="8.4" fill="#222" textLength="11.6" lengthAdjust="spacingAndGlyphs">2-3</text>
<text x="365.2" y="252.50" font-size="8.4" fill="#222">1</text>
<text x="324.2" y="220.6" font-size="8.3" fill="#222" textLength="77.5" lengthAdjust="spacingAndGlyphs">Number of antibiotics</text>
<line x1="324.2" y1="221.7" x2="401.7" y2="221.7" stroke="#555" stroke-width="0.8"/>
<text x="390.1" y="247.7" font-size="8.4" fill="#222" textLength="66.4" lengthAdjust="spacingAndGlyphs">Log-rank <tspan font-style="italic">P</tspan> = 0.07</text>
<text x="482.2" y="251.6" font-size="8.3" fill="#3f5f9f" text-anchor="start" font-weight="normal" textLength="18.0" lengthAdjust="spacingAndGlyphs" >66%</text>
<text x="482.2" y="270.1" font-size="8.3" fill="#e9a93a" text-anchor="start" font-weight="normal" textLength="17.6" lengthAdjust="spacingAndGlyphs" >50%</text>
<text x="482.2" y="284.6" font-size="8.3" fill="#b7324f" text-anchor="start" font-weight="normal" textLength="17.6" lengthAdjust="spacingAndGlyphs" >39%</text>
<text x="424.0" y="297.5" font-size="8.3" fill="#222">HR</text>
<text x="442.7" y="297.5" font-size="8.3" fill="#222">95% CI</text>
<text x="476.8" y="297.5" font-size="8.3" fill="#222" font-style="italic">P</text>
<line x1="424.0" y1="298.8" x2="481.8" y2="298.8" stroke="#444" stroke-width="0.8"/>
<rect x="408.7" y="304.70" width="2.10" height="1.8" fill="#1f3c84"/>
<rect x="413.0" y="304.70" width="2.60" height="1.8" fill="#1f3c84"/>
<rect x="417.8" y="304.70" width="2.10" height="1.8" fill="#1f3c84"/>
<text x="424.0" y="308.20" font-size="8.3" fill="#222">2.8</text>
<text x="442.7" y="308.20" font-size="8.3" fill="#222">1.5-5.1</text>
<text x="476.3" y="308.20" font-size="8.3" fill="#222">0.002</text>
<rect x="408.7" y="315.10" width="2.10" height="1.8" fill="#e89e1c"/>
<rect x="413.0" y="315.10" width="2.60" height="1.8" fill="#e89e1c"/>
<rect x="417.8" y="315.10" width="2.10" height="1.8" fill="#e89e1c"/>
<text x="424.0" y="318.60" font-size="8.3" fill="#222">1.3</text>
<text x="442.7" y="318.60" font-size="8.3" fill="#222">0.7-2.3</text>
<rect x="408.7" y="325.50" width="2.10" height="1.8" fill="#b3173c"/>
<rect x="413.0" y="325.50" width="2.60" height="1.8" fill="#b3173c"/>
<rect x="417.8" y="325.50" width="2.10" height="1.8" fill="#b3173c"/>
<text x="424.0" y="329.00" font-size="8.3" fill="#222">1.0</text>
<text x="442.7" y="329.00" font-size="8.3" fill="#222">[Reference]</text>
<path d="M320.50 332.30 H350.00 V332.30 H350.80 V328.50 H355.40 V323.80 H358.50 V322.30 H366.90 V320.80 H370.80 V316.20 H376.90 V313.10 H380.00 V311.50 H386.20 V309.20 H391.50 V306.20 H394.60 V302.30 H397.70 V297.70 H399.20 V294.60 H403.10 V291.50 H407.70 V290.00 H412.30 V287.70 H494.60 V287.70" fill="none" stroke="#b3173c" stroke-width="1.6"/>
<circle cx="350.80" cy="328.50" r="2.2" fill="#b3173c"/>
<circle cx="355.40" cy="323.80" r="2.2" fill="#b3173c"/>
<circle cx="358.50" cy="322.30" r="2.2" fill="#b3173c"/>
<circle cx="366.90" cy="320.80" r="2.2" fill="#b3173c"/>
<circle cx="370.80" cy="316.20" r="2.2" fill="#b3173c"/>
<circle cx="376.90" cy="313.10" r="2.2" fill="#b3173c"/>
<circle cx="380.00" cy="311.50" r="2.2" fill="#b3173c"/>
<circle cx="386.20" cy="309.20" r="2.2" fill="#b3173c"/>
<circle cx="391.50" cy="306.20" r="2.2" fill="#b3173c"/>
<circle cx="394.60" cy="302.30" r="2.2" fill="#b3173c"/>
<circle cx="397.70" cy="297.70" r="2.2" fill="#b3173c"/>
<circle cx="399.20" cy="294.60" r="2.2" fill="#b3173c"/>
<circle cx="403.10" cy="291.50" r="2.2" fill="#b3173c"/>
<circle cx="407.70" cy="290.00" r="2.2" fill="#b3173c"/>
<circle cx="412.30" cy="287.70" r="2.2" fill="#b3173c"/>
<circle cx="352.50" cy="326.50" r="2.2" fill="#b3173c"/>
<circle cx="362.00" cy="321.50" r="2.2" fill="#b3173c"/>
<circle cx="373.50" cy="314.60" r="2.2" fill="#b3173c"/>
<circle cx="383.00" cy="310.30" r="2.2" fill="#b3173c"/>
<circle cx="389.00" cy="307.70" r="2.2" fill="#b3173c"/>
<circle cx="393.00" cy="304.00" r="2.2" fill="#b3173c"/>
<circle cx="396.00" cy="300.00" r="2.2" fill="#b3173c"/>
<circle cx="401.00" cy="293.00" r="2.2" fill="#b3173c"/>
<circle cx="405.50" cy="290.70" r="2.2" fill="#b3173c"/>
<circle cx="410.00" cy="288.80" r="2.2" fill="#b3173c"/>
<circle cx="490.00" cy="287.70" r="2.35" fill="#b3173c"/>
<circle cx="494.60" cy="287.70" r="2.35" fill="#b3173c"/>
<path d="M320.50 332.30 H345.00 V332.30 H349.20 V326.90 H353.80 V325.40 H357.70 V317.70 H361.50 V314.60 H366.90 V310.00 H370.80 V305.40 H372.30 V299.20 H376.20 V296.20 H380.80 V293.80 H396.20 V291.50 H401.50 V288.50 H406.20 V284.60 H410.80 V282.30 H418.50 V278.50 H420.80 V278.40 H430.00 V277.90 H438.10 V276.50 H466.90 V276.50 H472.20 V274.20 H494.60 V274.20" fill="none" stroke="#e89e1c" stroke-width="1.6"/>
<circle cx="352.40" cy="326.90" r="2.1" fill="#e89e1c"/>
<circle cx="354.10" cy="325.40" r="2.1" fill="#e89e1c"/>
<circle cx="357.30" cy="325.40" r="2.1" fill="#e89e1c"/>
<circle cx="357.70" cy="322.60" r="2.1" fill="#e89e1c"/>
<circle cx="357.70" cy="319.40" r="2.1" fill="#e89e1c"/>
<circle cx="359.20" cy="317.70" r="2.1" fill="#e89e1c"/>
<circle cx="361.50" cy="316.80" r="2.1" fill="#e89e1c"/>
<circle cx="362.50" cy="314.60" r="2.1" fill="#e89e1c"/>
<circle cx="365.70" cy="314.60" r="2.1" fill="#e89e1c"/>
<circle cx="366.90" cy="312.60" r="2.1" fill="#e89e1c"/>
<circle cx="367.50" cy="310.00" r="2.1" fill="#e89e1c"/>
<circle cx="370.70" cy="310.00" r="2.1" fill="#e89e1c"/>
<circle cx="370.80" cy="306.90" r="2.1" fill="#e89e1c"/>
<circle cx="372.30" cy="305.20" r="2.1" fill="#e89e1c"/>
<circle cx="372.30" cy="302.00" r="2.1" fill="#e89e1c"/>
<circle cx="372.70" cy="299.20" r="2.1" fill="#e89e1c"/>
<circle cx="375.90" cy="299.20" r="2.1" fill="#e89e1c"/>
<circle cx="376.20" cy="296.30" r="2.1" fill="#e89e1c"/>
<circle cx="379.30" cy="296.20" r="2.1" fill="#e89e1c"/>
<circle cx="380.80" cy="294.50" r="2.1" fill="#e89e1c"/>
<circle cx="380.80" cy="293.80" r="2.35" fill="#e89e1c"/>
<circle cx="396.20" cy="291.50" r="2.35" fill="#e89e1c"/>
<circle cx="401.50" cy="288.50" r="2.35" fill="#e89e1c"/>
<circle cx="406.20" cy="284.60" r="2.35" fill="#e89e1c"/>
<circle cx="410.80" cy="282.30" r="2.35" fill="#e89e1c"/>
<circle cx="418.50" cy="278.50" r="2.35" fill="#e89e1c"/>
<circle cx="420.80" cy="278.40" r="2.35" fill="#e89e1c"/>
<circle cx="430.00" cy="277.90" r="2.35" fill="#e89e1c"/>
<circle cx="438.10" cy="276.50" r="2.35" fill="#e89e1c"/>
<circle cx="466.90" cy="276.50" r="2.35" fill="#e89e1c"/>
<circle cx="472.20" cy="274.20" r="2.35" fill="#e89e1c"/>
<circle cx="494.60" cy="274.20" r="2.35" fill="#e89e1c"/>
<path d="M320.50 332.30 H346.20 V332.30 H346.20 V327.70 H351.50 V327.70 H360.00 V322.30 H362.30 V316.90 H363.80 V307.20 H367.40 V296.90 H376.20 V291.50 H377.70 V286.90 H382.80 V282.00 H388.20 V276.90 H396.90 V271.50 H398.50 V266.60 H403.80 V266.60 H405.80 V261.10 H409.20 V255.60 H477.30 V255.60 H494.60 V255.60" fill="none" stroke="#1f3c84" stroke-width="1.5" stroke-dasharray="4 2"/>
<circle cx="346.20" cy="327.70" r="2.35" fill="#1f3c84"/>
<circle cx="351.50" cy="327.70" r="2.35" fill="#1f3c84"/>
<circle cx="360.00" cy="322.30" r="2.35" fill="#1f3c84"/>
<circle cx="362.30" cy="316.90" r="2.35" fill="#1f3c84"/>
<circle cx="363.80" cy="307.20" r="2.35" fill="#1f3c84"/>
<circle cx="367.40" cy="296.90" r="2.35" fill="#1f3c84"/>
<circle cx="376.20" cy="291.50" r="2.35" fill="#1f3c84"/>
<circle cx="377.70" cy="286.90" r="2.35" fill="#1f3c84"/>
<circle cx="382.80" cy="282.00" r="2.35" fill="#1f3c84"/>
<circle cx="388.20" cy="276.90" r="2.35" fill="#1f3c84"/>
<circle cx="396.90" cy="271.50" r="2.35" fill="#1f3c84"/>
<circle cx="398.50" cy="266.60" r="2.35" fill="#1f3c84"/>
<circle cx="403.80" cy="266.60" r="2.35" fill="#1f3c84"/>
<circle cx="405.80" cy="261.10" r="2.35" fill="#1f3c84"/>
<circle cx="409.20" cy="255.60" r="2.35" fill="#1f3c84"/>
<circle cx="477.30" cy="255.60" r="2.35" fill="#1f3c84"/>
<circle cx="494.60" cy="255.60" r="2.35" fill="#1f3c84"/>
<rect x="64.1" y="406.40" width="2.20" height="1.8" fill="#1f3c84"/>
<rect x="74.5" y="406.40" width="2.20" height="1.8" fill="#1f3c84"/>
<circle cx="70.40" cy="407.30" r="2.3" fill="#1f3c84"/>
<line x1="64.1" y1="418.8" x2="76.6" y2="418.8" stroke="#5aa534" stroke-width="1.7"/>
<circle cx="70.40" cy="418.80" r="2.3" fill="#5aa534"/>
<text x="80.7" y="409.6" font-size="8.4" fill="#222" text-anchor="start" font-weight="normal" textLength="73.4" lengthAdjust="spacingAndGlyphs" >Anaerobic coverage</text>
<text x="80.7" y="421.1" font-size="8.4" fill="#222" text-anchor="start" font-weight="normal" textLength="84.8" lengthAdjust="spacingAndGlyphs" >No anaerobic coverage</text>
<text x="231.0" y="452.3" font-size="8.3" fill="#3f5f9f" text-anchor="start" font-weight="normal" textLength="17.6" lengthAdjust="spacingAndGlyphs" >54%</text>
<text x="232.2" y="505.6" font-size="8.3" fill="#79b85b" text-anchor="start" font-weight="normal" textLength="16.8" lengthAdjust="spacingAndGlyphs" >22%</text>
<text x="128.2" y="496.6" font-size="8.4" fill="#222" textLength="75.0" lengthAdjust="spacingAndGlyphs">Log-rank <tspan font-style="italic">P</tspan> &lt; 0.0001</text>
<text x="83.3" y="446.8" font-size="8.3" fill="#222">HR</text>
<text x="102.3" y="446.8" font-size="8.3" fill="#222">95% CI</text>
<text x="137.0" y="446.8" font-size="8.3" fill="#222" font-style="italic">P</text>
<line x1="83.3" y1="448.0" x2="141.8" y2="448.0" stroke="#444" stroke-width="0.8"/>
<rect x="69.5" y="453.80" width="2.10" height="1.8" fill="#1f3c84"/>
<rect x="73.1" y="453.80" width="3.20" height="1.8" fill="#1f3c84"/>
<rect x="77.8" y="453.80" width="2.00" height="1.8" fill="#1f3c84"/>
<text x="83.3" y="457.10" font-size="8.3" fill="#222">3.1</text>
<text x="102.3" y="457.10" font-size="8.3" fill="#222">1.8-5.6</text>
<text x="135.7" y="457.10" font-size="8.3" fill="#222">&lt; 0.0001</text>
<rect x="69.5" y="464.20" width="3.90" height="1.6" fill="#5aa534"/>
<rect x="75.7" y="464.20" width="3.90" height="1.6" fill="#5aa534"/>
<text x="83.3" y="467.40" font-size="8.3" fill="#222">1.0</text>
<text x="102.3" y="467.40" font-size="8.3" fill="#222">[Reference]</text>
<path d="M59.80 523.20 H63.80 V523.20 H65.00 V521.50 H74.30 V519.60 H82.00 V517.70 H92.60 V516.30 H108.00 V514.40 H109.20 V513.10 H126.30 V512.50 H129.20 V509.60 H132.00 V508.70 H135.00 V507.70 H139.70 V506.70 H143.60 V505.80 H152.70 V504.50 H165.40 V503.50 H179.10 V503.00 H184.40 V502.60 H187.60 V502.20 H201.30 V502.00 H203.50 V501.80 H209.80 V499.70 H214.00 V497.80 H218.30 V497.50 H222.50 V497.30 H228.90 V496.70 H238.40 V496.10 H242.00 V496.10 H245.80 V496.10" fill="none" stroke="#5aa534" stroke-width="1.6"/>
<circle cx="74.30" cy="519.60" r="2.35" fill="#5aa534"/>
<circle cx="82.00" cy="517.70" r="2.35" fill="#5aa534"/>
<circle cx="92.60" cy="516.30" r="2.35" fill="#5aa534"/>
<circle cx="108.00" cy="514.40" r="2.35" fill="#5aa534"/>
<circle cx="109.20" cy="513.10" r="2.35" fill="#5aa534"/>
<circle cx="129.20" cy="509.60" r="2.35" fill="#5aa534"/>
<circle cx="132.00" cy="508.70" r="2.35" fill="#5aa534"/>
<circle cx="135.00" cy="507.70" r="2.35" fill="#5aa534"/>
<circle cx="139.70" cy="506.70" r="2.35" fill="#5aa534"/>
<circle cx="143.60" cy="505.80" r="2.35" fill="#5aa534"/>
<circle cx="152.70" cy="504.50" r="2.35" fill="#5aa534"/>
<circle cx="165.40" cy="503.50" r="2.35" fill="#5aa534"/>
<circle cx="179.10" cy="503.00" r="2.35" fill="#5aa534"/>
<circle cx="184.40" cy="502.60" r="2.35" fill="#5aa534"/>
<circle cx="187.60" cy="502.20" r="2.35" fill="#5aa534"/>
<circle cx="201.30" cy="502.00" r="2.35" fill="#5aa534"/>
<circle cx="203.50" cy="501.80" r="2.35" fill="#5aa534"/>
<circle cx="209.80" cy="499.70" r="2.35" fill="#5aa534"/>
<circle cx="214.00" cy="497.80" r="2.35" fill="#5aa534"/>
<circle cx="218.30" cy="497.50" r="2.35" fill="#5aa534"/>
<circle cx="222.50" cy="497.30" r="2.35" fill="#5aa534"/>
<circle cx="228.90" cy="496.70" r="2.35" fill="#5aa534"/>
<circle cx="238.40" cy="496.10" r="2.35" fill="#5aa534"/>
<circle cx="242.00" cy="496.10" r="2.35" fill="#5aa534"/>
<circle cx="245.80" cy="496.10" r="2.35" fill="#5aa534"/>
<circle cx="110.50" cy="513.10" r="2.35" fill="#5aa534"/>
<circle cx="131.00" cy="509.00" r="2.35" fill="#5aa534"/>
<circle cx="186.00" cy="502.40" r="2.35" fill="#5aa534"/>
<circle cx="189.00" cy="502.20" r="2.35" fill="#5aa534"/>
<circle cx="200.00" cy="502.00" r="2.35" fill="#5aa534"/>
<circle cx="211.80" cy="499.20" r="2.35" fill="#5aa534"/>
<circle cx="216.00" cy="497.60" r="2.35" fill="#5aa534"/>
<path d="M59.80 523.20 H63.00 V523.20 H65.70 V520.20 H68.60 V516.30 H72.40 V512.50 H74.30 V509.60 H84.00 V509.60 H84.90 V504.80 H88.80 V501.90 H90.70 V498.10 H92.20 V496.20 H99.30 V496.20 H101.30 V494.20 H103.20 V491.30 H106.10 V489.40 H119.50 V487.50 H137.80 V484.60 H140.70 V484.60 H152.00 V481.70 H163.30 V480.20 H165.40 V476.40 H166.40 V473.40 H172.80 V470.70 H182.30 V468.10 H184.40 V467.50 H202.40 V465.80 H205.60 V465.00 H210.90 V462.20 H213.00 V460.10 H220.00 V455.90 H245.80 V455.90" fill="none" stroke="#1f3c84" stroke-width="1.5" stroke-dasharray="4 2"/>
<circle cx="65.70" cy="520.20" r="2.35" fill="#1f3c84"/>
<circle cx="68.60" cy="516.30" r="2.35" fill="#1f3c84"/>
<circle cx="72.40" cy="512.50" r="2.35" fill="#1f3c84"/>
<circle cx="74.30" cy="509.60" r="2.35" fill="#1f3c84"/>
<circle cx="84.90" cy="504.80" r="2.35" fill="#1f3c84"/>
<circle cx="88.80" cy="501.90" r="2.35" fill="#1f3c84"/>
<circle cx="90.70" cy="498.10" r="2.35" fill="#1f3c84"/>
<circle cx="92.20" cy="496.20" r="2.35" fill="#1f3c84"/>
<circle cx="101.30" cy="494.20" r="2.35" fill="#1f3c84"/>
<circle cx="103.20" cy="491.30" r="2.35" fill="#1f3c84"/>
<circle cx="106.10" cy="489.40" r="2.35" fill="#1f3c84"/>
<circle cx="119.50" cy="487.50" r="2.35" fill="#1f3c84"/>
<circle cx="137.80" cy="484.60" r="2.35" fill="#1f3c84"/>
<circle cx="140.70" cy="484.60" r="2.35" fill="#1f3c84"/>
<circle cx="152.00" cy="481.70" r="2.35" fill="#1f3c84"/>
<circle cx="165.40" cy="476.40" r="2.35" fill="#1f3c84"/>
<circle cx="166.40" cy="473.40" r="2.35" fill="#1f3c84"/>
<circle cx="172.80" cy="470.70" r="2.35" fill="#1f3c84"/>
<circle cx="182.30" cy="468.10" r="2.35" fill="#1f3c84"/>
<circle cx="184.40" cy="467.50" r="2.35" fill="#1f3c84"/>
<circle cx="202.40" cy="465.80" r="2.35" fill="#1f3c84"/>
<circle cx="205.60" cy="465.00" r="2.35" fill="#1f3c84"/>
<circle cx="210.90" cy="462.20" r="2.35" fill="#1f3c84"/>
<circle cx="213.00" cy="460.10" r="2.35" fill="#1f3c84"/>
<circle cx="220.00" cy="455.90" r="2.35" fill="#1f3c84"/>
<circle cx="245.80" cy="455.90" r="2.35" fill="#1f3c84"/>
<circle cx="66.50" cy="518.50" r="2.35" fill="#1f3c84"/>
<circle cx="85.50" cy="503.00" r="2.35" fill="#1f3c84"/>
<circle cx="89.80" cy="500.00" r="2.35" fill="#1f3c84"/>
<circle cx="91.50" cy="497.20" r="2.35" fill="#1f3c84"/>
<circle cx="102.30" cy="492.70" r="2.35" fill="#1f3c84"/>
<circle cx="104.50" cy="490.50" r="2.35" fill="#1f3c84"/>
<circle cx="165.90" cy="474.80" r="2.35" fill="#1f3c84"/>
<circle cx="203.80" cy="465.50" r="2.35" fill="#1f3c84"/>
<circle cx="212.00" cy="461.00" r="2.35" fill="#1f3c84"/>
<rect x="441.2" y="414.30" width="2.00" height="1.8" fill="#1f3c84"/>
<rect x="451.0" y="414.30" width="2.00" height="1.8" fill="#1f3c84"/>
<circle cx="446.90" cy="415.20" r="2.3" fill="#1f3c84"/>
<line x1="440.4" y1="425.8" x2="453.29999999999995" y2="425.8" stroke="#e89e1c" stroke-width="1.7"/>
<circle cx="446.90" cy="425.80" r="2.3" fill="#e89e1c"/>
<line x1="440.4" y1="436.0" x2="453.29999999999995" y2="436.0" stroke="#b3173c" stroke-width="1.7"/>
<circle cx="446.90" cy="436.00" r="2.3" fill="#b3173c"/>
<text x="457.1" y="417.70" font-size="8.4" fill="#222">≥4</text>
<text x="457.1" y="428.30" font-size="8.4" fill="#222" textLength="12.1" lengthAdjust="spacingAndGlyphs">2-3</text>
<text x="457.1" y="438.50" font-size="8.4" fill="#222">1</text>
<text x="416.2" y="407.1" font-size="8.3" fill="#222" textLength="77.8" lengthAdjust="spacingAndGlyphs">Number of antibiotics</text>
<line x1="416.2" y1="408.20000000000005" x2="494.0" y2="408.20000000000005" stroke="#555" stroke-width="0.8"/>
<text x="376.2" y="487.1" font-size="8.4" fill="#222" textLength="75.0" lengthAdjust="spacingAndGlyphs">Log-rank <tspan font-style="italic">P</tspan> &lt; 0.0001</text>
<text x="485.0" y="456.9" font-size="8.3" fill="#3f5f9f" text-anchor="start" font-weight="normal" textLength="17.4" lengthAdjust="spacingAndGlyphs" >64%</text>
<text x="491.0" y="482.7" font-size="8.3" fill="#e9a93a" text-anchor="start" font-weight="normal" textLength="17.4" lengthAdjust="spacingAndGlyphs" >26%</text>
<text x="489.0" y="506.9" font-size="8.3" fill="#b7324f" text-anchor="start" font-weight="normal" textLength="17.4" lengthAdjust="spacingAndGlyphs" >22%</text>
<text x="341.2" y="432.7" font-size="8.3" fill="#222">HR</text>
<text x="360.1" y="432.7" font-size="8.3" fill="#222">95% CI</text>
<text x="397.8" y="432.7" font-size="8.3" fill="#222" font-style="italic">P</text>
<line x1="341.2" y1="434.0" x2="402.8" y2="434.0" stroke="#444" stroke-width="0.8"/>
<rect x="326.8" y="439.70" width="2.10" height="1.8" fill="#1f3c84"/>
<rect x="331.1" y="439.70" width="2.60" height="1.8" fill="#1f3c84"/>
<rect x="335.90000000000003" y="439.70" width="2.10" height="1.8" fill="#1f3c84"/>
<text x="341.2" y="443.20" font-size="8.3" fill="#222">4.3</text>
<text x="360.1" y="443.20" font-size="8.3" fill="#222">2.0-9.1</text>
<text x="395.8" y="443.20" font-size="8.3" fill="#222">&lt; 0.0001</text>
<rect x="326.8" y="449.90" width="2.10" height="1.8" fill="#e89e1c"/>
<rect x="331.1" y="449.90" width="2.60" height="1.8" fill="#e89e1c"/>
<rect x="335.90000000000003" y="449.90" width="2.10" height="1.8" fill="#e89e1c"/>
<text x="341.2" y="453.40" font-size="8.3" fill="#222">1.2</text>
<text x="360.1" y="453.40" font-size="8.3" fill="#222">0.6-2.6</text>
<rect x="326.8" y="460.10" width="2.10" height="1.8" fill="#b3173c"/>
<rect x="331.1" y="460.10" width="2.60" height="1.8" fill="#b3173c"/>
<rect x="335.90000000000003" y="460.10" width="2.10" height="1.8" fill="#b3173c"/>
<text x="341.2" y="463.60" font-size="8.3" fill="#222">1.0</text>
<text x="360.1" y="463.60" font-size="8.3" fill="#222">[Reference]</text>
<path d="M320.50 523.10 H336.30 V523.10 H339.20 V521.70 H353.70 V519.80 H355.60 V517.90 H366.20 V516.90 H369.00 V513.10 H387.30 V512.10 H393.10 V509.20 H396.90 V506.30 H401.70 V504.40 H420.00 V503.80 H422.50 V501.90 H435.00 V501.90 H457.10 V501.90 H461.00 V500.60 H469.60 V498.70 H477.30 V498.70 H492.70 V497.30 H500.40 V497.30" fill="none" stroke="#b3173c" stroke-width="1.6"/>
<circle cx="353.70" cy="519.80" r="2.35" fill="#b3173c"/>
<circle cx="355.60" cy="517.90" r="2.35" fill="#b3173c"/>
<circle cx="366.20" cy="516.90" r="2.35" fill="#b3173c"/>
<circle cx="369.00" cy="513.10" r="2.35" fill="#b3173c"/>
<circle cx="387.30" cy="512.10" r="2.35" fill="#b3173c"/>
<circle cx="393.10" cy="509.20" r="2.35" fill="#b3173c"/>
<circle cx="396.90" cy="506.30" r="2.35" fill="#b3173c"/>
<circle cx="401.70" cy="504.40" r="2.35" fill="#b3173c"/>
<circle cx="422.50" cy="501.90" r="2.35" fill="#b3173c"/>
<circle cx="435.00" cy="501.90" r="2.35" fill="#b3173c"/>
<circle cx="457.10" cy="501.90" r="2.35" fill="#b3173c"/>
<circle cx="469.60" cy="498.70" r="2.35" fill="#b3173c"/>
<circle cx="477.30" cy="498.70" r="2.35" fill="#b3173c"/>
<circle cx="492.70" cy="497.30" r="2.35" fill="#b3173c"/>
<circle cx="500.40" cy="497.30" r="2.35" fill="#b3173c"/>
<path d="M320.50 523.10 H334.40 V523.10 H334.40 V519.20 H342.10 V517.90 H351.70 V516.00 H361.30 V514.00 H363.30 V513.10 H384.40 V512.10 H387.30 V509.20 H394.00 V508.30 H396.00 V507.30 H410.40 V506.30 H420.60 V504.40 H429.20 V501.50 H437.90 V498.70 H442.70 V497.30 H459.00 V497.30 H466.70 V495.80 H468.70 V493.80 H483.10 V491.90 H496.50 V491.90 H500.40 V491.90" fill="none" stroke="#e89e1c" stroke-width="1.6"/>
<circle cx="334.40" cy="519.20" r="2.35" fill="#e89e1c"/>
<circle cx="342.10" cy="517.90" r="2.35" fill="#e89e1c"/>
<circle cx="351.70" cy="516.00" r="2.35" fill="#e89e1c"/>
<circle cx="361.30" cy="514.00" r="2.35" fill="#e89e1c"/>
<circle cx="363.30" cy="513.10" r="2.35" fill="#e89e1c"/>
<circle cx="384.40" cy="512.10" r="2.35" fill="#e89e1c"/>
<circle cx="387.30" cy="509.20" r="2.35" fill="#e89e1c"/>
<circle cx="394.00" cy="508.30" r="2.35" fill="#e89e1c"/>
<circle cx="396.00" cy="507.30" r="2.35" fill="#e89e1c"/>
<circle cx="410.40" cy="506.30" r="2.35" fill="#e89e1c"/>
<circle cx="429.20" cy="501.50" r="2.35" fill="#e89e1c"/>
<circle cx="437.90" cy="498.70" r="2.35" fill="#e89e1c"/>
<circle cx="442.70" cy="497.30" r="2.35" fill="#e89e1c"/>
<circle cx="459.00" cy="497.30" r="2.35" fill="#e89e1c"/>
<circle cx="466.70" cy="495.80" r="2.35" fill="#e89e1c"/>
<circle cx="468.70" cy="493.80" r="2.35" fill="#e89e1c"/>
<circle cx="483.10" cy="491.90" r="2.35" fill="#e89e1c"/>
<circle cx="496.50" cy="491.90" r="2.35" fill="#e89e1c"/>
<circle cx="500.40" cy="491.90" r="2.35" fill="#e89e1c"/>
<circle cx="344.50" cy="517.70" r="2.35" fill="#e89e1c"/>
<circle cx="431.00" cy="501.00" r="2.35" fill="#e89e1c"/>
<circle cx="439.50" cy="498.30" r="2.35" fill="#e89e1c"/>
<circle cx="441.00" cy="497.80" r="2.35" fill="#e89e1c"/>
<circle cx="469.50" cy="493.00" r="2.35" fill="#e89e1c"/>
<circle cx="498.50" cy="491.90" r="2.35" fill="#e89e1c"/>
<path d="M320.50 523.10 H327.00 V523.10 H327.70 V518.80 H328.70 V516.00 H329.60 V514.00 H333.50 V507.30 H333.80 V503.10 H344.00 V503.10 H344.00 V496.20 H348.80 V494.20 H349.80 V491.00 H350.40 V487.10 H350.80 V484.20 H360.40 V481.30 H365.20 V477.50 H377.70 V473.70 H399.80 V473.10 H408.50 V468.80 H422.50 V464.60 H458.10 V464.60 H458.10 V460.20 H461.90 V460.20 H465.80 V456.30 H468.70 V451.50 H475.40 V446.70 H500.40 V446.70" fill="none" stroke="#1f3c84" stroke-width="1.5" stroke-dasharray="4 2"/>
<circle cx="327.70" cy="518.80" r="2.35" fill="#1f3c84"/>
<circle cx="328.70" cy="516.00" r="2.35" fill="#1f3c84"/>
<circle cx="329.60" cy="514.00" r="2.35" fill="#1f3c84"/>
<circle cx="333.50" cy="507.30" r="2.35" fill="#1f3c84"/>
<circle cx="333.80" cy="503.10" r="2.35" fill="#1f3c84"/>
<circle cx="344.00" cy="496.20" r="2.35" fill="#1f3c84"/>
<circle cx="348.80" cy="494.20" r="2.35" fill="#1f3c84"/>
<circle cx="349.80" cy="491.00" r="2.35" fill="#1f3c84"/>
<circle cx="350.40" cy="487.10" r="2.35" fill="#1f3c84"/>
<circle cx="350.80" cy="484.20" r="2.35" fill="#1f3c84"/>
<circle cx="360.40" cy="481.30" r="2.35" fill="#1f3c84"/>
<circle cx="365.20" cy="477.50" r="2.35" fill="#1f3c84"/>
<circle cx="377.70" cy="473.70" r="2.35" fill="#1f3c84"/>
<circle cx="399.80" cy="473.10" r="2.35" fill="#1f3c84"/>
<circle cx="408.50" cy="468.80" r="2.35" fill="#1f3c84"/>
<circle cx="422.50" cy="464.60" r="2.35" fill="#1f3c84"/>
<circle cx="458.10" cy="460.20" r="2.35" fill="#1f3c84"/>
<circle cx="461.90" cy="460.20" r="2.35" fill="#1f3c84"/>
<circle cx="465.80" cy="456.30" r="2.35" fill="#1f3c84"/>
<circle cx="468.70" cy="451.50" r="2.35" fill="#1f3c84"/>
<circle cx="475.40" cy="446.70" r="2.35" fill="#1f3c84"/>
<circle cx="500.40" cy="446.70" r="2.35" fill="#1f3c84"/>
<circle cx="334.00" cy="505.00" r="2.35" fill="#1f3c84"/>
<circle cx="349.00" cy="492.80" r="2.35" fill="#1f3c84"/>
<circle cx="351.00" cy="485.50" r="2.35" fill="#1f3c84"/>
<circle cx="460.00" cy="460.20" r="2.35" fill="#1f3c84"/>
<circle cx="467.20" cy="453.80" r="2.35" fill="#1f3c84"/>
<rect x="64.1" y="597.20" width="2.20" height="1.8" fill="#1f3c84"/>
<rect x="74.5" y="597.20" width="2.20" height="1.8" fill="#1f3c84"/>
<circle cx="70.40" cy="598.10" r="2.3" fill="#1f3c84"/>
<line x1="64.1" y1="609.8" x2="76.6" y2="609.8" stroke="#5aa534" stroke-width="1.7"/>
<circle cx="70.40" cy="609.80" r="2.3" fill="#5aa534"/>
<text x="80.7" y="600.4" font-size="8.4" fill="#222" text-anchor="start" font-weight="normal" textLength="73.4" lengthAdjust="spacingAndGlyphs" >Anaerobic coverage</text>
<text x="80.7" y="612.1" font-size="8.4" fill="#222" text-anchor="start" font-weight="normal" textLength="84.8" lengthAdjust="spacingAndGlyphs" >No anaerobic coverage</text>
<text x="228.9" y="656.5" font-size="8.3" fill="#3f5f9f" text-anchor="start" font-weight="normal" textLength="17.6" lengthAdjust="spacingAndGlyphs" >43%</text>
<text x="233.1" y="709.8" font-size="8.3" fill="#79b85b" text-anchor="start" font-weight="normal" textLength="16.6" lengthAdjust="spacingAndGlyphs" >13%</text>
<text x="148.5" y="692.5" font-size="8.4" fill="#222" textLength="74.6" lengthAdjust="spacingAndGlyphs">Log-rank <tspan font-style="italic">P</tspan> &lt; 0.0001</text>
<text x="83.7" y="637.7" font-size="8.3" fill="#222">HR</text>
<text x="102.3" y="637.7" font-size="8.3" fill="#222">95% CI</text>
<text x="137.0" y="637.7" font-size="8.3" fill="#222" font-style="italic">P</text>
<line x1="83.7" y1="638.9000000000001" x2="141.7" y2="638.9000000000001" stroke="#444" stroke-width="0.8"/>
<rect x="69.5" y="644.70" width="2.10" height="1.8" fill="#1f3c84"/>
<rect x="73.1" y="644.70" width="3.20" height="1.8" fill="#1f3c84"/>
<rect x="77.8" y="644.70" width="2.00" height="1.8" fill="#1f3c84"/>
<text x="83.7" y="648.00" font-size="8.3" fill="#222">4.2</text>
<text x="102.3" y="648.00" font-size="8.3" fill="#222">2.0-8.7</text>
<text x="135.7" y="648.00" font-size="8.3" fill="#222">0.0001</text>
<rect x="69.5" y="655.10" width="3.90" height="1.6" fill="#5aa534"/>
<rect x="75.7" y="655.10" width="3.90" height="1.6" fill="#5aa534"/>
<text x="83.7" y="658.30" font-size="8.3" fill="#222">1.0</text>
<text x="102.3" y="658.30" font-size="8.3" fill="#222">[Reference]</text>
<path d="M59.80 714.10 H63.80 V714.10 H65.50 V712.00 H75.30 V710.20 H82.00 V708.80 H92.60 V707.70 H108.00 V706.90 H110.00 V706.30 H127.20 V705.40 H130.10 V703.80 H134.90 V703.50 H139.70 V702.50 H144.50 V702.50 H153.20 V702.50 H165.40 V702.50 H179.10 V702.30 H184.40 V702.00 H187.60 V701.80 H202.40 V701.50 H204.00 V701.30 H214.00 V700.30 H216.00 V700.30 H222.50 V700.00 H228.90 V699.70 H238.40 V698.20 H242.00 V698.20 H245.80 V698.20" fill="none" stroke="#5aa534" stroke-width="1.6"/>
<circle cx="75.30" cy="710.20" r="2.35" fill="#5aa534"/>
<circle cx="82.00" cy="708.80" r="2.35" fill="#5aa534"/>
<circle cx="92.60" cy="707.70" r="2.35" fill="#5aa534"/>
<circle cx="108.00" cy="706.90" r="2.35" fill="#5aa534"/>
<circle cx="110.00" cy="706.30" r="2.35" fill="#5aa534"/>
<circle cx="127.20" cy="705.40" r="2.35" fill="#5aa534"/>
<circle cx="130.10" cy="703.80" r="2.35" fill="#5aa534"/>
<circle cx="134.90" cy="703.50" r="2.35" fill="#5aa534"/>
<circle cx="139.70" cy="702.50" r="2.35" fill="#5aa534"/>
<circle cx="144.50" cy="702.50" r="2.35" fill="#5aa534"/>
<circle cx="153.20" cy="702.50" r="2.35" fill="#5aa534"/>
<circle cx="165.40" cy="702.50" r="2.35" fill="#5aa534"/>
<circle cx="179.10" cy="702.30" r="2.35" fill="#5aa534"/>
<circle cx="184.40" cy="702.00" r="2.35" fill="#5aa534"/>
<circle cx="187.60" cy="701.80" r="2.35" fill="#5aa534"/>
<circle cx="202.40" cy="701.50" r="2.35" fill="#5aa534"/>
<circle cx="204.00" cy="701.30" r="2.35" fill="#5aa534"/>
<circle cx="214.00" cy="700.30" r="2.35" fill="#5aa534"/>
<circle cx="216.00" cy="700.30" r="2.35" fill="#5aa534"/>
<circle cx="222.50" cy="700.00" r="2.35" fill="#5aa534"/>
<circle cx="228.90" cy="699.70" r="2.35" fill="#5aa534"/>
<circle cx="238.40" cy="698.20" r="2.35" fill="#5aa534"/>
<circle cx="242.00" cy="698.20" r="2.35" fill="#5aa534"/>
<circle cx="245.80" cy="698.20" r="2.35" fill="#5aa534"/>
<circle cx="111.50" cy="706.30" r="2.35" fill="#5aa534"/>
<circle cx="131.50" cy="703.80" r="2.35" fill="#5aa534"/>
<circle cx="186.00" cy="701.90" r="2.35" fill="#5aa534"/>
<circle cx="189.00" cy="701.80" r="2.35" fill="#5aa534"/>
<circle cx="200.50" cy="701.60" r="2.35" fill="#5aa534"/>
<circle cx="212.00" cy="700.50" r="2.35" fill="#5aa534"/>
<path d="M59.80 714.10 H64.00 V714.10 H66.70 V709.20 H68.60 V706.30 H72.40 V702.50 H74.30 V700.00 H84.00 V700.00 H84.90 V695.80 H89.70 V691.90 H90.70 V688.10 H92.20 V687.10 H99.30 V687.10 H101.30 V686.20 H103.20 V683.80 H106.10 V681.90 H119.50 V680.40 H137.80 V680.00 H141.70 V680.00 H152.20 V678.10 H163.50 V677.50 H165.40 V677.00 H166.40 V674.30 H172.80 V671.30 H182.30 V671.30 H184.40 V671.30 H202.40 V668.10 H207.70 V666.40 H210.90 V663.70 H213.00 V661.20 H220.00 V661.20 H245.80 V661.20" fill="none" stroke="#1f3c84" stroke-width="1.5" stroke-dasharray="4 2"/>
<circle cx="66.70" cy="709.20" r="2.35" fill="#1f3c84"/>
<circle cx="68.60" cy="706.30" r="2.35" fill="#1f3c84"/>
<circle cx="72.40" cy="702.50" r="2.35" fill="#1f3c84"/>
<circle cx="74.30" cy="700.00" r="2.35" fill="#1f3c84"/>
<circle cx="84.90" cy="695.80" r="2.35" fill="#1f3c84"/>
<circle cx="89.70" cy="691.90" r="2.35" fill="#1f3c84"/>
<circle cx="90.70" cy="688.10" r="2.35" fill="#1f3c84"/>
<circle cx="92.20" cy="687.10" r="2.35" fill="#1f3c84"/>
<circle cx="101.30" cy="686.20" r="2.35" fill="#1f3c84"/>
<circle cx="103.20" cy="683.80" r="2.35" fill="#1f3c84"/>
<circle cx="106.10" cy="681.90" r="2.35" fill="#1f3c84"/>
<circle cx="119.50" cy="680.40" r="2.35" fill="#1f3c84"/>
<circle cx="137.80" cy="680.00" r="2.35" fill="#1f3c84"/>
<circle cx="141.70" cy="680.00" r="2.35" fill="#1f3c84"/>
<circle cx="152.20" cy="678.10" r="2.35" fill="#1f3c84"/>
<circle cx="165.40" cy="677.00" r="2.35" fill="#1f3c84"/>
<circle cx="166.40" cy="674.30" r="2.35" fill="#1f3c84"/>
<circle cx="172.80" cy="671.30" r="2.35" fill="#1f3c84"/>
<circle cx="182.30" cy="671.30" r="2.35" fill="#1f3c84"/>
<circle cx="184.40" cy="671.30" r="2.35" fill="#1f3c84"/>
<circle cx="202.40" cy="668.10" r="2.35" fill="#1f3c84"/>
<circle cx="207.70" cy="666.40" r="2.35" fill="#1f3c84"/>
<circle cx="210.90" cy="663.70" r="2.35" fill="#1f3c84"/>
<circle cx="213.00" cy="661.20" r="2.35" fill="#1f3c84"/>
<circle cx="220.00" cy="661.20" r="2.35" fill="#1f3c84"/>
<circle cx="245.80" cy="661.20" r="2.35" fill="#1f3c84"/>
<circle cx="67.50" cy="707.80" r="2.35" fill="#1f3c84"/>
<circle cx="85.50" cy="694.50" r="2.35" fill="#1f3c84"/>
<circle cx="90.20" cy="690.00" r="2.35" fill="#1f3c84"/>
<circle cx="91.50" cy="687.50" r="2.35" fill="#1f3c84"/>
<circle cx="102.30" cy="685.00" r="2.35" fill="#1f3c84"/>
<circle cx="104.50" cy="683.00" r="2.35" fill="#1f3c84"/>
<circle cx="165.90" cy="675.50" r="2.35" fill="#1f3c84"/>
<circle cx="204.00" cy="667.50" r="2.35" fill="#1f3c84"/>
<circle cx="212.00" cy="662.50" r="2.35" fill="#1f3c84"/>
<rect x="448.3" y="602.90" width="2.00" height="1.8" fill="#1f3c84"/>
<rect x="458.1" y="602.90" width="2.00" height="1.8" fill="#1f3c84"/>
<circle cx="453.80" cy="603.80" r="2.3" fill="#1f3c84"/>
<line x1="447.5" y1="613.8" x2="460.4" y2="613.8" stroke="#e89e1c" stroke-width="1.7"/>
<circle cx="453.80" cy="613.80" r="2.3" fill="#e89e1c"/>
<line x1="447.5" y1="624.5" x2="460.4" y2="624.5" stroke="#b3173c" stroke-width="1.7"/>
<circle cx="453.80" cy="624.50" r="2.3" fill="#b3173c"/>
<text x="464.5" y="606.30" font-size="8.4" fill="#222">≥4</text>
<text x="464.5" y="616.30" font-size="8.4" fill="#222" textLength="11.8" lengthAdjust="spacingAndGlyphs">2-3</text>
<text x="464.5" y="627.00" font-size="8.4" fill="#222">1</text>
<text x="423.3" y="595.0" font-size="8.3" fill="#222" textLength="78.0" lengthAdjust="spacingAndGlyphs">Number of antibiotics</text>
<line x1="423.3" y1="596.1" x2="501.3" y2="596.1" stroke="#555" stroke-width="0.8"/>
<text x="394.0" y="680.3" font-size="8.4" fill="#222" textLength="74.7" lengthAdjust="spacingAndGlyphs">Log-rank <tspan font-style="italic">P</tspan> &lt; 0.0001</text>
<text x="493.7" y="636.9" font-size="8.3" fill="#3f5f9f" text-anchor="start" font-weight="normal" textLength="17.4" lengthAdjust="spacingAndGlyphs" >56%</text>
<text x="494.0" y="690.0" font-size="8.3" fill="#e9a93a" text-anchor="start" font-weight="normal" textLength="16.6" lengthAdjust="spacingAndGlyphs" >16%</text>
<text x="499.4" y="712.5" font-size="8.3" fill="#b7324f" text-anchor="start" font-weight="normal" textLength="11.8" lengthAdjust="spacingAndGlyphs" >9%</text>
<text x="335.8" y="619.6" font-size="8.3" fill="#222">HR</text>
<text x="358.5" y="619.6" font-size="8.3" fill="#222">95% CI</text>
<text x="396.2" y="619.6" font-size="8.3" fill="#222" font-style="italic">P</text>
<line x1="335.8" y1="620.9" x2="400.8" y2="620.9" stroke="#444" stroke-width="0.8"/>
<rect x="321.9" y="626.70" width="2.10" height="1.8" fill="#1f3c84"/>
<rect x="326.2" y="626.70" width="2.60" height="1.8" fill="#1f3c84"/>
<rect x="331.0" y="626.70" width="2.10" height="1.8" fill="#1f3c84"/>
<text x="335.8" y="630.20" font-size="8.3" fill="#222">10.0</text>
<text x="358.5" y="630.20" font-size="8.3" fill="#222">3.4-29.8</text>
<text x="395.4" y="630.20" font-size="8.3" fill="#222">&lt; 0.0001</text>
<rect x="321.9" y="637.00" width="2.10" height="1.8" fill="#e89e1c"/>
<rect x="326.2" y="637.00" width="2.60" height="1.8" fill="#e89e1c"/>
<rect x="331.0" y="637.00" width="2.10" height="1.8" fill="#e89e1c"/>
<text x="335.8" y="640.50" font-size="8.3" fill="#222">1.9</text>
<text x="358.5" y="640.50" font-size="8.3" fill="#222">0.6-6.2</text>
<rect x="321.9" y="647.30" width="2.10" height="1.8" fill="#b3173c"/>
<rect x="326.2" y="647.30" width="2.60" height="1.8" fill="#b3173c"/>
<rect x="331.0" y="647.30" width="2.10" height="1.8" fill="#b3173c"/>
<text x="335.8" y="650.80" font-size="8.3" fill="#222">1.0</text>
<text x="358.5" y="650.80" font-size="8.3" fill="#222">[Reference]</text>
<path d="M320.50 714.10 H337.30 V714.10 H337.30 V713.50 H353.70 V711.50 H369.00 V710.00 H371.00 V708.70 H392.10 V708.70 H396.90 V708.70 H399.80 V706.70 H404.60 V705.80 H426.30 V706.70 H438.80 V706.70 H461.90 V706.70 H465.80 V706.70 H476.30 V706.70 H484.00 V706.70 H495.60 V706.70 H495.60 V702.90 H507.10 V702.90" fill="none" stroke="#b3173c" stroke-width="1.6"/>
<circle cx="353.70" cy="711.50" r="2.35" fill="#b3173c"/>
<circle cx="369.00" cy="710.00" r="2.35" fill="#b3173c"/>
<circle cx="371.00" cy="708.70" r="2.35" fill="#b3173c"/>
<circle cx="392.10" cy="708.70" r="2.35" fill="#b3173c"/>
<circle cx="396.90" cy="708.70" r="2.35" fill="#b3173c"/>
<circle cx="399.80" cy="706.70" r="2.35" fill="#b3173c"/>
<circle cx="404.60" cy="705.80" r="2.35" fill="#b3173c"/>
<circle cx="426.30" cy="706.70" r="2.35" fill="#b3173c"/>
<circle cx="438.80" cy="706.70" r="2.35" fill="#b3173c"/>
<circle cx="461.90" cy="706.70" r="2.35" fill="#b3173c"/>
<circle cx="465.80" cy="706.70" r="2.35" fill="#b3173c"/>
<circle cx="476.30" cy="706.70" r="2.35" fill="#b3173c"/>
<circle cx="484.00" cy="706.70" r="2.35" fill="#b3173c"/>
<circle cx="495.60" cy="702.90" r="2.35" fill="#b3173c"/>
<circle cx="507.10" cy="702.90" r="2.35" fill="#b3173c"/>
<path d="M320.50 714.10 H334.00 V714.10 H334.40 V710.60 H343.10 V708.70 H363.30 V704.80 H387.30 V702.90 H389.20 V701.00 H398.80 V701.00 H413.30 V701.00 H424.40 V701.00 H426.30 V701.00 H434.00 V699.00 H444.60 V697.70 H447.50 V697.10 H463.80 V697.10 H471.50 V695.60 H474.40 V695.10 H488.80 V695.10 H504.20 V695.10 H507.10 V695.10" fill="none" stroke="#e89e1c" stroke-width="1.6"/>
<circle cx="334.40" cy="710.60" r="2.35" fill="#e89e1c"/>
<circle cx="343.10" cy="708.70" r="2.35" fill="#e89e1c"/>
<circle cx="363.30" cy="704.80" r="2.35" fill="#e89e1c"/>
<circle cx="387.30" cy="702.90" r="2.35" fill="#e89e1c"/>
<circle cx="389.20" cy="701.00" r="2.35" fill="#e89e1c"/>
<circle cx="398.80" cy="701.00" r="2.35" fill="#e89e1c"/>
<circle cx="413.30" cy="701.00" r="2.35" fill="#e89e1c"/>
<circle cx="424.40" cy="701.00" r="2.35" fill="#e89e1c"/>
<circle cx="426.30" cy="701.00" r="2.35" fill="#e89e1c"/>
<circle cx="434.00" cy="699.00" r="2.35" fill="#e89e1c"/>
<circle cx="444.60" cy="697.70" r="2.35" fill="#e89e1c"/>
<circle cx="447.50" cy="697.10" r="2.35" fill="#e89e1c"/>
<circle cx="463.80" cy="697.10" r="2.35" fill="#e89e1c"/>
<circle cx="471.50" cy="695.60" r="2.35" fill="#e89e1c"/>
<circle cx="474.40" cy="695.10" r="2.35" fill="#e89e1c"/>
<circle cx="488.80" cy="695.10" r="2.35" fill="#e89e1c"/>
<circle cx="504.20" cy="695.10" r="2.35" fill="#e89e1c"/>
<circle cx="507.10" cy="695.10" r="2.35" fill="#e89e1c"/>
<circle cx="449.50" cy="697.10" r="2.35" fill="#e89e1c"/>
<circle cx="476.50" cy="695.10" r="2.35" fill="#e89e1c"/>
<circle cx="505.60" cy="695.10" r="2.35" fill="#e89e1c"/>
<path d="M320.50 714.10 H328.00 V714.10 H328.70 V709.60 H329.60 V705.80 H333.50 V697.70 H334.40 V693.80 H345.00 V693.80 H345.00 V686.20 H350.40 V682.30 H351.20 V677.90 H352.70 V674.00 H362.30 V674.00 H367.10 V670.20 H380.60 V665.80 H402.70 V665.80 H412.30 V661.20 H425.40 V659.60 H426.30 V656.20 H463.50 V656.20 H463.50 V652.30 H467.70 V651.90 H471.50 V647.10 H474.40 V642.70 H481.20 V642.70 H507.10 V642.70" fill="none" stroke="#1f3c84" stroke-width="1.5" stroke-dasharray="4 2"/>
<circle cx="328.70" cy="709.60" r="2.35" fill="#1f3c84"/>
<circle cx="329.60" cy="705.80" r="2.35" fill="#1f3c84"/>
<circle cx="333.50" cy="697.70" r="2.35" fill="#1f3c84"/>
<circle cx="334.40" cy="693.80" r="2.35" fill="#1f3c84"/>
<circle cx="345.00" cy="686.20" r="2.35" fill="#1f3c84"/>
<circle cx="350.40" cy="682.30" r="2.35" fill="#1f3c84"/>
<circle cx="351.20" cy="677.90" r="2.35" fill="#1f3c84"/>
<circle cx="352.70" cy="674.00" r="2.35" fill="#1f3c84"/>
<circle cx="362.30" cy="674.00" r="2.35" fill="#1f3c84"/>
<circle cx="367.10" cy="670.20" r="2.35" fill="#1f3c84"/>
<circle cx="380.60" cy="665.80" r="2.35" fill="#1f3c84"/>
<circle cx="402.70" cy="665.80" r="2.35" fill="#1f3c84"/>
<circle cx="412.30" cy="661.20" r="2.35" fill="#1f3c84"/>
<circle cx="426.30" cy="656.20" r="2.35" fill="#1f3c84"/>
<circle cx="463.50" cy="652.30" r="2.35" fill="#1f3c84"/>
<circle cx="467.70" cy="651.90" r="2.35" fill="#1f3c84"/>
<circle cx="471.50" cy="647.10" r="2.35" fill="#1f3c84"/>
<circle cx="474.40" cy="642.70" r="2.35" fill="#1f3c84"/>
<circle cx="481.20" cy="642.70" r="2.35" fill="#1f3c84"/>
<circle cx="507.10" cy="642.70" r="2.35" fill="#1f3c84"/>
<circle cx="329.00" cy="707.50" r="2.35" fill="#1f3c84"/>
<circle cx="334.00" cy="695.50" r="2.35" fill="#1f3c84"/>
<circle cx="350.80" cy="680.00" r="2.35" fill="#1f3c84"/>
<circle cx="352.00" cy="676.00" r="2.35" fill="#1f3c84"/>
<circle cx="465.50" cy="652.10" r="2.35" fill="#1f3c84"/>
<rect x="1.5" y="1.5" width="517" height="752" fill="none" stroke="#9a9a9a" stroke-width="1"/>
<rect x="0.5" y="0.5" width="519" height="754" fill="none" stroke="#000" stroke-width="1"/>
</svg>
</body></html>
